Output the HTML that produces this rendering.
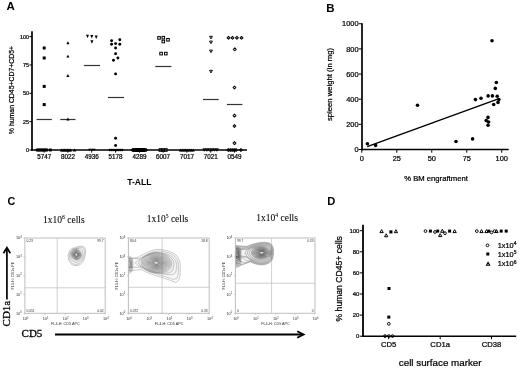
<!DOCTYPE html>
<html><head><meta charset="utf-8"><style>
html,body{margin:0;padding:0;background:#fff;}
body{width:520px;height:369px;overflow:hidden;font-family:"Liberation Sans", sans-serif;}
svg{display:block;will-change:transform;}
</style></head><body>
<svg width="520" height="369" viewBox="0 0 520 369">
<rect width="520" height="369" fill="#fff"/>
<text x="6.5" y="9.9" font-size="11.5" text-anchor="start" font-weight="bold" font-family='"Liberation Sans", sans-serif' fill="#000" >A</text>
<line x1="32.0" y1="31.2" x2="32.0" y2="150.8" stroke="#000" stroke-width="1.7" />
<line x1="31.2" y1="150.0" x2="247.0" y2="150.0" stroke="#000" stroke-width="1.7" />
<line x1="29.4" y1="150.0" x2="32" y2="150.0" stroke="#000" stroke-width="1.0" />
<text x="29.0" y="151.9" font-size="5.4" text-anchor="end" font-weight="normal" font-family='"Liberation Sans", sans-serif' fill="#000" stroke="#000" stroke-width="0.22" >0</text>
<line x1="29.4" y1="121.65" x2="32" y2="121.65" stroke="#000" stroke-width="1.0" />
<text x="29.0" y="123.55000000000001" font-size="5.4" text-anchor="end" font-weight="normal" font-family='"Liberation Sans", sans-serif' fill="#000" stroke="#000" stroke-width="0.22" >25</text>
<line x1="29.4" y1="93.3" x2="32" y2="93.3" stroke="#000" stroke-width="1.0" />
<text x="29.0" y="95.2" font-size="5.4" text-anchor="end" font-weight="normal" font-family='"Liberation Sans", sans-serif' fill="#000" stroke="#000" stroke-width="0.22" >50</text>
<line x1="29.4" y1="64.95" x2="32" y2="64.95" stroke="#000" stroke-width="1.0" />
<text x="29.0" y="66.85000000000001" font-size="5.4" text-anchor="end" font-weight="normal" font-family='"Liberation Sans", sans-serif' fill="#000" stroke="#000" stroke-width="0.22" >75</text>
<line x1="29.4" y1="36.599999999999994" x2="32" y2="36.599999999999994" stroke="#000" stroke-width="1.0" />
<text x="29.0" y="38.49999999999999" font-size="5.4" text-anchor="end" font-weight="normal" font-family='"Liberation Sans", sans-serif' fill="#000" stroke="#000" stroke-width="0.22" >100</text>
<text x="44.2" y="158.7" font-size="6.3" text-anchor="middle" font-weight="normal" font-family='"Liberation Sans", sans-serif' fill="#000" stroke="#000" stroke-width="0.22" >5747</text>
<line x1="44.2" y1="150.0" x2="44.2" y2="152.6" stroke="#000" stroke-width="1.0" />
<text x="67.9" y="158.7" font-size="6.3" text-anchor="middle" font-weight="normal" font-family='"Liberation Sans", sans-serif' fill="#000" stroke="#000" stroke-width="0.22" >8022</text>
<line x1="67.9" y1="150.0" x2="67.9" y2="152.6" stroke="#000" stroke-width="1.0" />
<text x="91.7" y="158.7" font-size="6.3" text-anchor="middle" font-weight="normal" font-family='"Liberation Sans", sans-serif' fill="#000" stroke="#000" stroke-width="0.22" >4936</text>
<line x1="91.7" y1="150.0" x2="91.7" y2="152.6" stroke="#000" stroke-width="1.0" />
<text x="115.6" y="158.7" font-size="6.3" text-anchor="middle" font-weight="normal" font-family='"Liberation Sans", sans-serif' fill="#000" stroke="#000" stroke-width="0.22" >5178</text>
<line x1="115.6" y1="150.0" x2="115.6" y2="152.6" stroke="#000" stroke-width="1.0" />
<text x="139.5" y="158.7" font-size="6.3" text-anchor="middle" font-weight="normal" font-family='"Liberation Sans", sans-serif' fill="#000" stroke="#000" stroke-width="0.22" >4289</text>
<line x1="139.5" y1="150.0" x2="139.5" y2="152.6" stroke="#000" stroke-width="1.0" />
<text x="163.1" y="158.7" font-size="6.3" text-anchor="middle" font-weight="normal" font-family='"Liberation Sans", sans-serif' fill="#000" stroke="#000" stroke-width="0.22" >6007</text>
<line x1="163.1" y1="150.0" x2="163.1" y2="152.6" stroke="#000" stroke-width="1.0" />
<text x="186.9" y="158.7" font-size="6.3" text-anchor="middle" font-weight="normal" font-family='"Liberation Sans", sans-serif' fill="#000" stroke="#000" stroke-width="0.22" >7017</text>
<line x1="186.9" y1="150.0" x2="186.9" y2="152.6" stroke="#000" stroke-width="1.0" />
<text x="210.7" y="158.7" font-size="6.3" text-anchor="middle" font-weight="normal" font-family='"Liberation Sans", sans-serif' fill="#000" stroke="#000" stroke-width="0.22" >7021</text>
<line x1="210.7" y1="150.0" x2="210.7" y2="152.6" stroke="#000" stroke-width="1.0" />
<text x="234.5" y="158.7" font-size="6.3" text-anchor="middle" font-weight="normal" font-family='"Liberation Sans", sans-serif' fill="#000" stroke="#000" stroke-width="0.22" >0549</text>
<line x1="234.5" y1="150.0" x2="234.5" y2="152.6" stroke="#000" stroke-width="1.0" />
<text x="139.4" y="184.8" font-size="8.6" text-anchor="middle" font-weight="bold" font-family='"Liberation Sans", sans-serif' fill="#000" >T-ALL</text>
<text x="0" y="0" font-size="6.9" text-anchor="middle" font-weight="normal" font-family='"Liberation Sans", sans-serif' fill="#000" stroke="#000" stroke-width="0.22" transform="translate(14.0,90) rotate(-90)">% human CD45+CD7+CD5+</text>
<line x1="36.6" y1="119.5" x2="51.8" y2="119.5" stroke="#333" stroke-width="1.2" />
<line x1="60.3" y1="119.5" x2="75.5" y2="119.5" stroke="#333" stroke-width="1.2" />
<line x1="83.8" y1="65.5" x2="100" y2="65.5" stroke="#333" stroke-width="1.2" />
<line x1="108" y1="97.5" x2="124" y2="97.5" stroke="#333" stroke-width="1.2" />
<line x1="155.3" y1="66.5" x2="171.4" y2="66.5" stroke="#333" stroke-width="1.2" />
<line x1="203" y1="99.5" x2="218.7" y2="99.5" stroke="#333" stroke-width="1.2" />
<line x1="226.9" y1="104.5" x2="242.4" y2="104.5" stroke="#333" stroke-width="1.2" />
<rect x="35.75" y="148.55" width="2.9" height="2.9" fill="#000"/>
<rect x="37.32" y="148.55" width="2.9" height="2.9" fill="#000"/>
<rect x="38.88" y="148.55" width="2.9" height="2.9" fill="#000"/>
<rect x="40.45" y="148.55" width="2.9" height="2.9" fill="#000"/>
<rect x="42.02" y="148.55" width="2.9" height="2.9" fill="#000"/>
<rect x="43.58" y="148.55" width="2.9" height="2.9" fill="#000"/>
<rect x="45.15" y="148.55" width="2.9" height="2.9" fill="#000"/>
<rect x="48.85" y="148.55" width="2.9" height="2.9" fill="#000"/>
<polygon points="61.50,148.43 63.25,151.57 59.75,151.57" fill="#000"/>
<polygon points="63.00,148.43 64.75,151.57 61.25,151.57" fill="#000"/>
<polygon points="64.50,148.43 66.25,151.57 62.75,151.57" fill="#000"/>
<polygon points="66.00,148.43 67.75,151.57 64.25,151.57" fill="#000"/>
<polygon points="67.50,148.43 69.25,151.57 65.75,151.57" fill="#000"/>
<polygon points="69.00,148.43 70.75,151.57 67.25,151.57" fill="#000"/>
<polygon points="70.50,148.43 72.25,151.57 68.75,151.57" fill="#000"/>
<polygon points="74.50,148.43 76.25,151.57 72.75,151.57" fill="#000"/>
<polygon points="89.60,151.35 91.10,148.65 88.10,148.65" fill="#000"/>
<polygon points="91.90,151.35 93.40,148.65 90.40,148.65" fill="#000"/>
<polygon points="94.20,151.35 95.70,148.65 92.70,148.65" fill="#000"/>
<circle cx="109.80" cy="150.00" r="1.25" fill="#000"/>
<circle cx="111.57" cy="150.00" r="1.25" fill="#000"/>
<circle cx="113.34" cy="150.00" r="1.25" fill="#000"/>
<circle cx="115.11" cy="150.00" r="1.25" fill="#000"/>
<circle cx="116.89" cy="150.00" r="1.25" fill="#000"/>
<circle cx="118.66" cy="150.00" r="1.25" fill="#000"/>
<circle cx="120.43" cy="150.00" r="1.25" fill="#000"/>
<circle cx="122.20" cy="150.00" r="1.25" fill="#000"/>
<rect x="132.2" y="148.1" width="14.2" height="3.8" rx="1.6" fill="#000"/>
<polygon points="132.40,148.00 134.40,150.00 132.40,152.00 130.40,150.00" fill="#000"/>
<polygon points="134.12,148.00 136.12,150.00 134.12,152.00 132.12,150.00" fill="#000"/>
<polygon points="135.85,148.00 137.85,150.00 135.85,152.00 133.85,150.00" fill="#000"/>
<polygon points="137.57,148.00 139.57,150.00 137.57,152.00 135.57,150.00" fill="#000"/>
<polygon points="139.30,148.00 141.30,150.00 139.30,152.00 137.30,150.00" fill="#000"/>
<polygon points="141.03,148.00 143.03,150.00 141.03,152.00 139.03,150.00" fill="#000"/>
<polygon points="142.75,148.00 144.75,150.00 142.75,152.00 140.75,150.00" fill="#000"/>
<polygon points="144.47,148.00 146.47,150.00 144.47,152.00 142.47,150.00" fill="#000"/>
<polygon points="146.20,148.00 148.20,150.00 146.20,152.00 144.20,150.00" fill="#000"/>
<rect x="159.10" y="148.70" width="2.60" height="2.60" fill="none" stroke="#000" stroke-width="1.0"/>
<rect x="161.80" y="148.70" width="2.60" height="2.60" fill="none" stroke="#000" stroke-width="1.0"/>
<rect x="164.50" y="148.70" width="2.60" height="2.60" fill="none" stroke="#000" stroke-width="1.0"/>
<polygon points="180.40,148.51 182.05,151.49 178.75,151.49" fill="#000"/>
<polygon points="182.23,148.51 183.88,151.49 180.58,151.49" fill="#000"/>
<polygon points="184.06,148.51 185.71,151.49 182.41,151.49" fill="#000"/>
<polygon points="185.89,148.51 187.54,151.49 184.24,151.49" fill="#000"/>
<polygon points="187.71,148.51 189.36,151.49 186.06,151.49" fill="#000"/>
<polygon points="189.54,148.51 191.19,151.49 187.89,151.49" fill="#000"/>
<polygon points="191.37,148.51 193.02,151.49 189.72,151.49" fill="#000"/>
<polygon points="193.20,148.51 194.85,151.49 191.55,151.49" fill="#000"/>
<polygon points="204.30,151.22 205.65,148.78 202.95,148.78" fill="none" stroke="#000" stroke-width="0.95" stroke-linejoin="round"/>
<polygon points="206.84,151.22 208.19,148.78 205.49,148.78" fill="none" stroke="#000" stroke-width="0.95" stroke-linejoin="round"/>
<polygon points="209.38,151.22 210.73,148.78 208.03,148.78" fill="none" stroke="#000" stroke-width="0.95" stroke-linejoin="round"/>
<polygon points="211.92,151.22 213.27,148.78 210.57,148.78" fill="none" stroke="#000" stroke-width="0.95" stroke-linejoin="round"/>
<polygon points="214.46,151.22 215.81,148.78 213.11,148.78" fill="none" stroke="#000" stroke-width="0.95" stroke-linejoin="round"/>
<polygon points="217.00,151.22 218.35,148.78 215.65,148.78" fill="none" stroke="#000" stroke-width="0.95" stroke-linejoin="round"/>
<polygon points="228.30,148.55 229.75,150.00 228.30,151.45 226.85,150.00" fill="none" stroke="#000" stroke-width="1.05" stroke-linejoin="round"/>
<polygon points="230.23,148.55 231.68,150.00 230.23,151.45 228.78,150.00" fill="none" stroke="#000" stroke-width="1.05" stroke-linejoin="round"/>
<polygon points="232.15,148.55 233.60,150.00 232.15,151.45 230.70,150.00" fill="none" stroke="#000" stroke-width="1.05" stroke-linejoin="round"/>
<polygon points="234.07,148.55 235.52,150.00 234.07,151.45 232.62,150.00" fill="none" stroke="#000" stroke-width="1.05" stroke-linejoin="round"/>
<polygon points="236.00,148.55 237.45,150.00 236.00,151.45 234.55,150.00" fill="none" stroke="#000" stroke-width="1.05" stroke-linejoin="round"/>
<polygon points="240.90,148.55 242.35,150.00 240.90,151.45 239.45,150.00" fill="none" stroke="#000" stroke-width="1.05" stroke-linejoin="round"/>
<rect x="42.70" y="46.50" width="3.0" height="3.0" fill="#000"/>
<rect x="42.70" y="56.50" width="3.0" height="3.0" fill="#000"/>
<rect x="42.70" y="84.90" width="3.0" height="3.0" fill="#000"/>
<rect x="42.70" y="103.10" width="3.0" height="3.0" fill="#000"/>
<polygon points="67.90,41.26 69.50,44.14 66.30,44.14" fill="#000"/>
<polygon points="67.90,54.66 69.50,57.54 66.30,57.54" fill="#000"/>
<polygon points="67.90,74.06 69.50,76.94 66.30,76.94" fill="#000"/>
<polygon points="67.90,117.56 69.50,120.44 66.30,120.44" fill="#000"/>
<polygon points="87.50,38.10 89.05,34.70 85.95,34.70" fill="#000"/>
<polygon points="91.80,38.50 93.35,35.10 90.25,35.10" fill="#000"/>
<polygon points="96.20,39.00 97.75,35.60 94.65,35.60" fill="#000"/>
<polygon points="91.90,43.70 93.45,40.30 90.35,40.30" fill="#000"/>
<circle cx="111.60" cy="40.80" r="1.45" fill="#000"/>
<circle cx="119.80" cy="39.80" r="1.45" fill="#000"/>
<circle cx="111.60" cy="44.20" r="1.45" fill="#000"/>
<circle cx="115.60" cy="43.60" r="1.45" fill="#000"/>
<circle cx="119.80" cy="44.20" r="1.45" fill="#000"/>
<circle cx="115.60" cy="48.00" r="1.45" fill="#000"/>
<circle cx="115.60" cy="53.70" r="1.45" fill="#000"/>
<circle cx="117.90" cy="58.00" r="1.45" fill="#000"/>
<circle cx="113.50" cy="60.30" r="1.45" fill="#000"/>
<circle cx="115.60" cy="73.90" r="1.45" fill="#000"/>
<circle cx="115.60" cy="138.30" r="1.45" fill="#000"/>
<circle cx="115.60" cy="145.50" r="1.45" fill="#000"/>
<rect x="157.70" y="36.60" width="2.60" height="2.60" fill="none" stroke="#000" stroke-width="1.0"/>
<rect x="162.00" y="36.40" width="2.60" height="2.60" fill="none" stroke="#000" stroke-width="1.0"/>
<rect x="162.00" y="40.20" width="2.60" height="2.60" fill="none" stroke="#000" stroke-width="1.0"/>
<rect x="166.70" y="38.50" width="2.60" height="2.60" fill="none" stroke="#000" stroke-width="1.0"/>
<rect x="159.80" y="52.30" width="2.60" height="2.60" fill="none" stroke="#000" stroke-width="1.0"/>
<rect x="164.50" y="52.30" width="2.60" height="2.60" fill="none" stroke="#000" stroke-width="1.0"/>
<polygon points="211.00,38.91 212.45,36.30 209.55,36.30" fill="none" stroke="#000" stroke-width="0.95" stroke-linejoin="round"/>
<polygon points="211.00,43.70 212.45,41.09 209.55,41.09" fill="none" stroke="#000" stroke-width="0.95" stroke-linejoin="round"/>
<polygon points="211.00,52.70 212.45,50.09 209.55,50.09" fill="none" stroke="#000" stroke-width="0.95" stroke-linejoin="round"/>
<polygon points="211.00,72.91 212.45,70.29 209.55,70.29" fill="none" stroke="#000" stroke-width="0.95" stroke-linejoin="round"/>
<polygon points="228.50,36.35 229.95,37.80 228.50,39.25 227.05,37.80" fill="none" stroke="#000" stroke-width="1.05" stroke-linejoin="round"/>
<polygon points="232.50,36.35 233.95,37.80 232.50,39.25 231.05,37.80" fill="none" stroke="#000" stroke-width="1.05" stroke-linejoin="round"/>
<polygon points="236.90,36.35 238.35,37.80 236.90,39.25 235.45,37.80" fill="none" stroke="#000" stroke-width="1.05" stroke-linejoin="round"/>
<polygon points="241.50,36.35 242.95,37.80 241.50,39.25 240.05,37.80" fill="none" stroke="#000" stroke-width="1.05" stroke-linejoin="round"/>
<polygon points="234.80,47.85 236.25,49.30 234.80,50.75 233.35,49.30" fill="none" stroke="#000" stroke-width="1.05" stroke-linejoin="round"/>
<polygon points="234.50,86.05 235.95,87.50 234.50,88.95 233.05,87.50" fill="none" stroke="#000" stroke-width="1.05" stroke-linejoin="round"/>
<polygon points="234.50,114.15 235.95,115.60 234.50,117.05 233.05,115.60" fill="none" stroke="#000" stroke-width="1.05" stroke-linejoin="round"/>
<polygon points="234.50,124.55 235.95,126.00 234.50,127.45 233.05,126.00" fill="none" stroke="#000" stroke-width="1.05" stroke-linejoin="round"/>
<polygon points="234.50,141.65 235.95,143.10 234.50,144.55 233.05,143.10" fill="none" stroke="#000" stroke-width="1.05" stroke-linejoin="round"/>
<text x="326.2" y="12.2" font-size="11.5" text-anchor="start" font-weight="bold" font-family='"Liberation Sans", sans-serif' fill="#000" >B</text>
<line x1="362.0" y1="23.2" x2="362.0" y2="150.3" stroke="#000" stroke-width="1.7" />
<line x1="361.2" y1="149.5" x2="508.7" y2="149.5" stroke="#000" stroke-width="1.5" />
<line x1="358.6" y1="149.5" x2="361.8" y2="149.5" stroke="#000" stroke-width="1" />
<text x="358.5" y="152.15" font-size="7.4" text-anchor="end" font-weight="normal" font-family='"Liberation Sans", sans-serif' fill="#000" stroke="#000" stroke-width="0.22" >0</text>
<line x1="358.6" y1="124.35" x2="361.8" y2="124.35" stroke="#000" stroke-width="1" />
<text x="358.5" y="127.0" font-size="7.4" text-anchor="end" font-weight="normal" font-family='"Liberation Sans", sans-serif' fill="#000" stroke="#000" stroke-width="0.22" >200</text>
<line x1="358.6" y1="99.2" x2="361.8" y2="99.2" stroke="#000" stroke-width="1" />
<text x="358.5" y="101.85000000000001" font-size="7.4" text-anchor="end" font-weight="normal" font-family='"Liberation Sans", sans-serif' fill="#000" stroke="#000" stroke-width="0.22" >400</text>
<line x1="358.6" y1="74.05" x2="361.8" y2="74.05" stroke="#000" stroke-width="1" />
<text x="358.5" y="76.7" font-size="7.4" text-anchor="end" font-weight="normal" font-family='"Liberation Sans", sans-serif' fill="#000" stroke="#000" stroke-width="0.22" >600</text>
<line x1="358.6" y1="48.900000000000006" x2="361.8" y2="48.900000000000006" stroke="#000" stroke-width="1" />
<text x="358.5" y="51.550000000000004" font-size="7.4" text-anchor="end" font-weight="normal" font-family='"Liberation Sans", sans-serif' fill="#000" stroke="#000" stroke-width="0.22" >800</text>
<line x1="358.6" y1="23.75" x2="361.8" y2="23.75" stroke="#000" stroke-width="1" />
<text x="358.5" y="26.4" font-size="7.4" text-anchor="end" font-weight="normal" font-family='"Liberation Sans", sans-serif' fill="#000" stroke="#000" stroke-width="0.22" >1000</text>
<line x1="361.8" y1="149.5" x2="361.8" y2="152.7" stroke="#000" stroke-width="1" />
<text x="361.8" y="160.7" font-size="7.4" text-anchor="middle" font-weight="normal" font-family='"Liberation Sans", sans-serif' fill="#000" stroke="#000" stroke-width="0.22" >0</text>
<line x1="396.7875" y1="149.5" x2="396.7875" y2="152.7" stroke="#000" stroke-width="1" />
<text x="396.7875" y="160.7" font-size="7.4" text-anchor="middle" font-weight="normal" font-family='"Liberation Sans", sans-serif' fill="#000" stroke="#000" stroke-width="0.22" >25</text>
<line x1="431.775" y1="149.5" x2="431.775" y2="152.7" stroke="#000" stroke-width="1" />
<text x="431.775" y="160.7" font-size="7.4" text-anchor="middle" font-weight="normal" font-family='"Liberation Sans", sans-serif' fill="#000" stroke="#000" stroke-width="0.22" >50</text>
<line x1="466.7625" y1="149.5" x2="466.7625" y2="152.7" stroke="#000" stroke-width="1" />
<text x="466.7625" y="160.7" font-size="7.4" text-anchor="middle" font-weight="normal" font-family='"Liberation Sans", sans-serif' fill="#000" stroke="#000" stroke-width="0.22" >75</text>
<line x1="501.75" y1="149.5" x2="501.75" y2="152.7" stroke="#000" stroke-width="1" />
<text x="501.75" y="160.7" font-size="7.4" text-anchor="middle" font-weight="normal" font-family='"Liberation Sans", sans-serif' fill="#000" stroke="#000" stroke-width="0.22" >100</text>
<text x="0" y="0" font-size="7.7" text-anchor="middle" font-weight="normal" font-family='"Liberation Sans", sans-serif' fill="#000" stroke="#000" stroke-width="0.22" transform="translate(332.4,84.5) rotate(-90)">spleen weight (in mg)</text>
<text x="436" y="181.4" font-size="7.7" text-anchor="middle" font-weight="normal" font-family='"Liberation Sans", sans-serif' fill="#000" stroke="#000" stroke-width="0.22" >% BM engraftment</text>
<line x1="367.2" y1="146.6" x2="499" y2="98.6" stroke="#000" stroke-width="1.5" />
<circle cx="367.40" cy="143.80" r="1.8" fill="#000"/>
<circle cx="375.60" cy="145.40" r="1.8" fill="#000"/>
<circle cx="417.50" cy="105.25" r="1.8" fill="#000"/>
<circle cx="456.00" cy="141.50" r="1.8" fill="#000"/>
<circle cx="472.60" cy="138.90" r="1.8" fill="#000"/>
<circle cx="475.40" cy="99.60" r="1.8" fill="#000"/>
<circle cx="481.00" cy="98.30" r="1.8" fill="#000"/>
<circle cx="488.10" cy="95.90" r="1.8" fill="#000"/>
<circle cx="492.40" cy="95.90" r="1.8" fill="#000"/>
<circle cx="497.20" cy="96.30" r="1.8" fill="#000"/>
<circle cx="498.90" cy="99.60" r="1.8" fill="#000"/>
<circle cx="498.00" cy="102.40" r="1.8" fill="#000"/>
<circle cx="493.70" cy="104.50" r="1.8" fill="#000"/>
<circle cx="496.40" cy="82.50" r="1.8" fill="#000"/>
<circle cx="495.30" cy="88.40" r="1.8" fill="#000"/>
<circle cx="492.00" cy="40.75" r="1.8" fill="#000"/>
<circle cx="488.00" cy="117.40" r="1.8" fill="#000"/>
<circle cx="486.20" cy="120.60" r="1.8" fill="#000"/>
<circle cx="488.60" cy="122.00" r="1.8" fill="#000"/>
<circle cx="488.00" cy="125.30" r="1.8" fill="#000"/>
<text x="327.3" y="205.3" font-size="11.2" text-anchor="start" font-weight="bold" font-family='"Liberation Sans", sans-serif' fill="#000" >D</text>
<line x1="363.0" y1="224.8" x2="363.0" y2="336.9" stroke="#000" stroke-width="1.8" />
<line x1="362.1" y1="336.2" x2="516.2" y2="336.2" stroke="#000" stroke-width="1.5" />
<line x1="359.8" y1="336.2" x2="362.8" y2="336.2" stroke="#000" stroke-width="1" />
<text x="359.40000000000003" y="338.3" font-size="6.0" text-anchor="end" font-weight="normal" font-family='"Liberation Sans", sans-serif' fill="#000" stroke="#000" stroke-width="0.22" >0</text>
<line x1="359.8" y1="315.09999999999997" x2="362.8" y2="315.09999999999997" stroke="#000" stroke-width="1" />
<text x="359.40000000000003" y="317.2" font-size="6.0" text-anchor="end" font-weight="normal" font-family='"Liberation Sans", sans-serif' fill="#000" stroke="#000" stroke-width="0.22" >20</text>
<line x1="359.8" y1="294.0" x2="362.8" y2="294.0" stroke="#000" stroke-width="1" />
<text x="359.40000000000003" y="296.1" font-size="6.0" text-anchor="end" font-weight="normal" font-family='"Liberation Sans", sans-serif' fill="#000" stroke="#000" stroke-width="0.22" >40</text>
<line x1="359.8" y1="272.9" x2="362.8" y2="272.9" stroke="#000" stroke-width="1" />
<text x="359.40000000000003" y="275.0" font-size="6.0" text-anchor="end" font-weight="normal" font-family='"Liberation Sans", sans-serif' fill="#000" stroke="#000" stroke-width="0.22" >60</text>
<line x1="359.8" y1="251.8" x2="362.8" y2="251.8" stroke="#000" stroke-width="1" />
<text x="359.40000000000003" y="253.9" font-size="6.0" text-anchor="end" font-weight="normal" font-family='"Liberation Sans", sans-serif' fill="#000" stroke="#000" stroke-width="0.22" >80</text>
<line x1="359.8" y1="230.7" x2="362.8" y2="230.7" stroke="#000" stroke-width="1" />
<text x="359.40000000000003" y="232.79999999999998" font-size="6.0" text-anchor="end" font-weight="normal" font-family='"Liberation Sans", sans-serif' fill="#000" stroke="#000" stroke-width="0.22" >100</text>
<line x1="388.7" y1="336.2" x2="388.7" y2="339.2" stroke="#000" stroke-width="1" />
<text x="388.7" y="347.3" font-size="7.7" text-anchor="middle" font-weight="normal" font-family='"Liberation Sans", sans-serif' fill="#000" stroke="#000" stroke-width="0.22" >CD5</text>
<line x1="440.2" y1="336.2" x2="440.2" y2="339.2" stroke="#000" stroke-width="1" />
<text x="440.2" y="347.3" font-size="7.7" text-anchor="middle" font-weight="normal" font-family='"Liberation Sans", sans-serif' fill="#000" stroke="#000" stroke-width="0.22" >CD1a</text>
<line x1="491.5" y1="336.2" x2="491.5" y2="339.2" stroke="#000" stroke-width="1" />
<text x="491.5" y="347.3" font-size="7.7" text-anchor="middle" font-weight="normal" font-family='"Liberation Sans", sans-serif' fill="#000" stroke="#000" stroke-width="0.22" >CD38</text>
<text x="440.2" y="365.5" font-size="9.8" text-anchor="middle" font-weight="normal" font-family='"Liberation Sans", sans-serif' fill="#000" stroke="#000" stroke-width="0.22" >cell surface marker</text>
<text x="0" y="0" font-size="8.6" text-anchor="middle" font-weight="normal" font-family='"Liberation Sans", sans-serif' fill="#000" stroke="#000" stroke-width="0.22" transform="translate(341.9,278.8) rotate(-90)">% human CD45+ cells</text>
<polygon points="381.60,229.61 383.25,232.59 379.95,232.59" fill="none" stroke="#000" stroke-width="1.0" stroke-linejoin="round"/>
<polygon points="386.20,233.81 387.85,236.79 384.55,236.79" fill="none" stroke="#000" stroke-width="1.0" stroke-linejoin="round"/>
<polygon points="395.90,229.71 397.55,232.69 394.25,232.69" fill="none" stroke="#000" stroke-width="1.0" stroke-linejoin="round"/>
<rect x="389.35" y="230.35" width="3.1" height="3.1" fill="#000"/>
<rect x="387.50" y="287.00" width="3.0" height="3.0" fill="#000"/>
<rect x="387.30" y="315.60" width="3.0" height="3.0" fill="#000"/>
<circle cx="388.80" cy="323.80" r="1.38" fill="none" stroke="#000" stroke-width="0.95"/>
<circle cx="385.00" cy="336.10" r="1.38" fill="none" stroke="#000" stroke-width="0.95"/>
<circle cx="388.80" cy="336.10" r="1.38" fill="none" stroke="#000" stroke-width="0.95"/>
<circle cx="392.50" cy="336.10" r="1.38" fill="none" stroke="#000" stroke-width="0.95"/>
<circle cx="425.50" cy="231.10" r="1.38" fill="none" stroke="#000" stroke-width="0.95"/>
<rect x="428.90" y="229.60" width="3.0" height="3.0" fill="#000"/>
<circle cx="435.00" cy="232.00" r="1.38" fill="none" stroke="#000" stroke-width="0.95"/>
<rect x="436.20" y="229.60" width="3.0" height="3.0" fill="#000"/>
<polygon points="440.20,233.61 441.85,236.59 438.55,236.59" fill="none" stroke="#000" stroke-width="1.0" stroke-linejoin="round"/>
<polygon points="442.30,229.31 443.95,232.29 440.65,232.29" fill="none" stroke="#000" stroke-width="1.0" stroke-linejoin="round"/>
<circle cx="445.00" cy="233.20" r="1.38" fill="none" stroke="#000" stroke-width="0.95"/>
<rect x="448.10" y="229.60" width="3.0" height="3.0" fill="#000"/>
<polygon points="454.60,229.61 456.25,232.59 452.95,232.59" fill="none" stroke="#000" stroke-width="1.0" stroke-linejoin="round"/>
<circle cx="476.80" cy="231.10" r="1.38" fill="none" stroke="#000" stroke-width="0.95"/>
<polygon points="481.50,229.61 483.15,232.59 479.85,232.59" fill="none" stroke="#000" stroke-width="1.0" stroke-linejoin="round"/>
<polygon points="486.50,229.61 488.15,232.59 484.85,232.59" fill="none" stroke="#000" stroke-width="1.0" stroke-linejoin="round"/>
<rect x="487.30" y="229.60" width="3.0" height="3.0" fill="#000"/>
<circle cx="491.50" cy="232.40" r="1.38" fill="none" stroke="#000" stroke-width="0.95"/>
<circle cx="494.60" cy="231.10" r="1.38" fill="none" stroke="#000" stroke-width="0.95"/>
<polygon points="496.50,229.61 498.15,232.59 494.85,232.59" fill="none" stroke="#000" stroke-width="1.0" stroke-linejoin="round"/>
<rect x="499.70" y="229.60" width="3.0" height="3.0" fill="#000"/>
<rect x="504.70" y="229.60" width="3.0" height="3.0" fill="#000"/>
<circle cx="487.50" cy="245.30" r="1.38" fill="none" stroke="#000" stroke-width="0.95"/>
<rect x="486.30" y="252.50" width="3.0" height="3.0" fill="#000"/>
<polygon points="488.10,262.27 489.80,265.33 486.40,265.33" fill="none" stroke="#000" stroke-width="1.05" stroke-linejoin="round"/>
<text x="497.7" y="247.6" font-size="7.4" font-family='"Liberation Sans", sans-serif' fill="#000" stroke="#000" stroke-width="0.22">1x10<tspan font-size="5" dy="-2.5">4</tspan></text>
<text x="497.7" y="256.6" font-size="7.4" font-family='"Liberation Sans", sans-serif' fill="#000" stroke="#000" stroke-width="0.22">1x10<tspan font-size="5" dy="-2.5">5</tspan></text>
<text x="497.7" y="266.40000000000003" font-size="7.4" font-family='"Liberation Sans", sans-serif' fill="#000" stroke="#000" stroke-width="0.22">1x10<tspan font-size="5" dy="-2.5">6</tspan></text>
<text x="7.4" y="204.9" font-size="10.8" text-anchor="start" font-weight="bold" font-family='"Liberation Sans", sans-serif' fill="#000" >C</text>
<text x="63.85" y="223.3" font-size="9.5" text-anchor="middle" font-family='"Liberation Serif", serif' fill="#000" stroke="#000" stroke-width="0.06">1x10<tspan font-size="5.6" dy="-4.0">6</tspan><tspan dy="4.0"> cells</tspan></text>
<text x="167.5" y="221.5" font-size="9.5" text-anchor="middle" font-family='"Liberation Serif", serif' fill="#000" stroke="#000" stroke-width="0.06">1x10<tspan font-size="5.6" dy="-4.0">5</tspan><tspan dy="4.0"> cells</tspan></text>
<text x="277.1" y="221.3" font-size="9.5" text-anchor="middle" font-family='"Liberation Serif", serif' fill="#000" stroke="#000" stroke-width="0.06">1x10<tspan font-size="5.6" dy="-4.0">4</tspan><tspan dy="4.0"> cells</tspan></text>
<rect x="24.9" y="238.0" width="80.30" height="75.30" fill="none" stroke="#bdbdbd" stroke-width="1.0"/>
<line x1="57.2" y1="238.0" x2="57.2" y2="313.3" stroke="#c4c4c4" stroke-width="0.8" />
<line x1="24.9" y1="287.8" x2="105.2" y2="287.8" stroke="#c4c4c4" stroke-width="0.8" />
<text x="26.4" y="242.4" font-size="3.3" text-anchor="start" font-weight="normal" font-family='"Liberation Sans", sans-serif' fill="#333" >0.23</text>
<text x="103.7" y="242.4" font-size="3.3" text-anchor="end" font-weight="normal" font-family='"Liberation Sans", sans-serif' fill="#333" >99.7</text>
<text x="26.4" y="312.1" font-size="3.3" text-anchor="start" font-weight="normal" font-family='"Liberation Sans", sans-serif' fill="#333" >0.051</text>
<text x="103.7" y="312.1" font-size="3.3" text-anchor="end" font-weight="normal" font-family='"Liberation Sans", sans-serif' fill="#333" >0.02</text>
<text x="21.7" y="314.6" font-size="3.8" text-anchor="end" font-family='"Liberation Sans", sans-serif' fill="#333">10<tspan font-size="2.7" dy="-1.5">0</tspan></text>
<line x1="23.4" y1="313.3" x2="24.9" y2="313.3" stroke="#aaa" stroke-width="0.5" />
<text x="25.5" y="320.3" font-size="3.8" text-anchor="middle" font-family='"Liberation Sans", sans-serif' fill="#333">10<tspan font-size="2.7" dy="-1.5">0</tspan></text>
<line x1="24.9" y1="313.3" x2="24.9" y2="314.8" stroke="#aaa" stroke-width="0.5" />
<text x="21.7" y="295.77500000000003" font-size="3.8" text-anchor="end" font-family='"Liberation Sans", sans-serif' fill="#333">10<tspan font-size="2.7" dy="-1.5">1</tspan></text>
<line x1="23.4" y1="294.475" x2="24.9" y2="294.475" stroke="#aaa" stroke-width="0.5" />
<text x="45.575" y="320.3" font-size="3.8" text-anchor="middle" font-family='"Liberation Sans", sans-serif' fill="#333">10<tspan font-size="2.7" dy="-1.5">1</tspan></text>
<line x1="44.975" y1="313.3" x2="44.975" y2="314.8" stroke="#aaa" stroke-width="0.5" />
<text x="21.7" y="276.95" font-size="3.8" text-anchor="end" font-family='"Liberation Sans", sans-serif' fill="#333">10<tspan font-size="2.7" dy="-1.5">2</tspan></text>
<line x1="23.4" y1="275.65" x2="24.9" y2="275.65" stroke="#aaa" stroke-width="0.5" />
<text x="65.65" y="320.3" font-size="3.8" text-anchor="middle" font-family='"Liberation Sans", sans-serif' fill="#333">10<tspan font-size="2.7" dy="-1.5">2</tspan></text>
<line x1="65.05000000000001" y1="313.3" x2="65.05000000000001" y2="314.8" stroke="#aaa" stroke-width="0.5" />
<text x="21.7" y="258.125" font-size="3.8" text-anchor="end" font-family='"Liberation Sans", sans-serif' fill="#333">10<tspan font-size="2.7" dy="-1.5">3</tspan></text>
<line x1="23.4" y1="256.825" x2="24.9" y2="256.825" stroke="#aaa" stroke-width="0.5" />
<text x="85.725" y="320.3" font-size="3.8" text-anchor="middle" font-family='"Liberation Sans", sans-serif' fill="#333">10<tspan font-size="2.7" dy="-1.5">3</tspan></text>
<line x1="85.125" y1="313.3" x2="85.125" y2="314.8" stroke="#aaa" stroke-width="0.5" />
<text x="21.7" y="239.3" font-size="3.8" text-anchor="end" font-family='"Liberation Sans", sans-serif' fill="#333">10<tspan font-size="2.7" dy="-1.5">4</tspan></text>
<line x1="23.4" y1="238.0" x2="24.9" y2="238.0" stroke="#aaa" stroke-width="0.5" />
<text x="105.80000000000001" y="320.3" font-size="3.8" text-anchor="middle" font-family='"Liberation Sans", sans-serif' fill="#333">10<tspan font-size="2.7" dy="-1.5">4</tspan></text>
<line x1="105.20000000000002" y1="313.3" x2="105.20000000000002" y2="314.8" stroke="#aaa" stroke-width="0.5" />
<text x="0" y="0" font-size="3.7" text-anchor="middle" font-weight="normal" font-family='"Liberation Sans", sans-serif' fill="#333" transform="translate(14.00,275.65) rotate(-90)">FL3-H: CD1a PE</text>
<text x="65.35" y="324.6" font-size="3.75" text-anchor="middle" font-weight="normal" font-family='"Liberation Sans", sans-serif' fill="#333" >FL4-H: CD5 APC</text>
<rect x="128.4" y="238.0" width="80.80" height="75.30" fill="none" stroke="#bdbdbd" stroke-width="1.0"/>
<line x1="162.1" y1="238.0" x2="162.1" y2="313.3" stroke="#c4c4c4" stroke-width="0.8" />
<line x1="128.4" y1="287.3" x2="209.2" y2="287.3" stroke="#c4c4c4" stroke-width="0.8" />
<text x="129.9" y="242.4" font-size="3.3" text-anchor="start" font-weight="normal" font-family='"Liberation Sans", sans-serif' fill="#333" >80.6</text>
<text x="207.7" y="242.4" font-size="3.3" text-anchor="end" font-weight="normal" font-family='"Liberation Sans", sans-serif' fill="#333" >18.8</text>
<text x="129.9" y="312.1" font-size="3.3" text-anchor="start" font-weight="normal" font-family='"Liberation Sans", sans-serif' fill="#333" >0.072</text>
<text x="207.7" y="312.1" font-size="3.3" text-anchor="end" font-weight="normal" font-family='"Liberation Sans", sans-serif' fill="#333" >0.33</text>
<text x="125.2" y="314.6" font-size="3.8" text-anchor="end" font-family='"Liberation Sans", sans-serif' fill="#333">10<tspan font-size="2.7" dy="-1.5">0</tspan></text>
<line x1="126.9" y1="313.3" x2="128.4" y2="313.3" stroke="#aaa" stroke-width="0.5" />
<text x="129.0" y="320.3" font-size="3.8" text-anchor="middle" font-family='"Liberation Sans", sans-serif' fill="#333">10<tspan font-size="2.7" dy="-1.5">0</tspan></text>
<line x1="128.4" y1="313.3" x2="128.4" y2="314.8" stroke="#aaa" stroke-width="0.5" />
<text x="125.2" y="295.77500000000003" font-size="3.8" text-anchor="end" font-family='"Liberation Sans", sans-serif' fill="#333">10<tspan font-size="2.7" dy="-1.5">1</tspan></text>
<line x1="126.9" y1="294.475" x2="128.4" y2="294.475" stroke="#aaa" stroke-width="0.5" />
<text x="149.2" y="320.3" font-size="3.8" text-anchor="middle" font-family='"Liberation Sans", sans-serif' fill="#333">10<tspan font-size="2.7" dy="-1.5">1</tspan></text>
<line x1="148.6" y1="313.3" x2="148.6" y2="314.8" stroke="#aaa" stroke-width="0.5" />
<text x="125.2" y="276.95" font-size="3.8" text-anchor="end" font-family='"Liberation Sans", sans-serif' fill="#333">10<tspan font-size="2.7" dy="-1.5">2</tspan></text>
<line x1="126.9" y1="275.65" x2="128.4" y2="275.65" stroke="#aaa" stroke-width="0.5" />
<text x="169.4" y="320.3" font-size="3.8" text-anchor="middle" font-family='"Liberation Sans", sans-serif' fill="#333">10<tspan font-size="2.7" dy="-1.5">2</tspan></text>
<line x1="168.8" y1="313.3" x2="168.8" y2="314.8" stroke="#aaa" stroke-width="0.5" />
<text x="125.2" y="258.125" font-size="3.8" text-anchor="end" font-family='"Liberation Sans", sans-serif' fill="#333">10<tspan font-size="2.7" dy="-1.5">3</tspan></text>
<line x1="126.9" y1="256.825" x2="128.4" y2="256.825" stroke="#aaa" stroke-width="0.5" />
<text x="189.6" y="320.3" font-size="3.8" text-anchor="middle" font-family='"Liberation Sans", sans-serif' fill="#333">10<tspan font-size="2.7" dy="-1.5">3</tspan></text>
<line x1="189.0" y1="313.3" x2="189.0" y2="314.8" stroke="#aaa" stroke-width="0.5" />
<text x="125.2" y="239.3" font-size="3.8" text-anchor="end" font-family='"Liberation Sans", sans-serif' fill="#333">10<tspan font-size="2.7" dy="-1.5">4</tspan></text>
<line x1="126.9" y1="238.0" x2="128.4" y2="238.0" stroke="#aaa" stroke-width="0.5" />
<text x="209.79999999999998" y="320.3" font-size="3.8" text-anchor="middle" font-family='"Liberation Sans", sans-serif' fill="#333">10<tspan font-size="2.7" dy="-1.5">4</tspan></text>
<line x1="209.2" y1="313.3" x2="209.2" y2="314.8" stroke="#aaa" stroke-width="0.5" />
<text x="0" y="0" font-size="3.7" text-anchor="middle" font-weight="normal" font-family='"Liberation Sans", sans-serif' fill="#333" transform="translate(117.50,275.65) rotate(-90)">FL3-H: CD1a PE</text>
<text x="169.10000000000002" y="324.6" font-size="3.75" text-anchor="middle" font-weight="normal" font-family='"Liberation Sans", sans-serif' fill="#333" >FL4-H: CD5 APC</text>
<rect x="235.4" y="238.0" width="79.60" height="75.30" fill="none" stroke="#bdbdbd" stroke-width="1.0"/>
<line x1="271.6" y1="238.0" x2="271.6" y2="313.3" stroke="#c4c4c4" stroke-width="0.8" />
<line x1="235.4" y1="283.2" x2="315.0" y2="283.2" stroke="#c4c4c4" stroke-width="0.8" />
<text x="236.9" y="242.4" font-size="3.3" text-anchor="start" font-weight="normal" font-family='"Liberation Sans", sans-serif' fill="#333" >99.7</text>
<text x="313.5" y="242.4" font-size="3.3" text-anchor="end" font-weight="normal" font-family='"Liberation Sans", sans-serif' fill="#333" >0.33</text>
<text x="236.9" y="312.1" font-size="3.3" text-anchor="start" font-weight="normal" font-family='"Liberation Sans", sans-serif' fill="#333" >0</text>
<text x="313.5" y="312.1" font-size="3.3" text-anchor="end" font-weight="normal" font-family='"Liberation Sans", sans-serif' fill="#333" >0</text>
<text x="232.20000000000002" y="314.6" font-size="3.8" text-anchor="end" font-family='"Liberation Sans", sans-serif' fill="#333">10<tspan font-size="2.7" dy="-1.5">0</tspan></text>
<line x1="233.9" y1="313.3" x2="235.4" y2="313.3" stroke="#aaa" stroke-width="0.5" />
<text x="236.0" y="320.3" font-size="3.8" text-anchor="middle" font-family='"Liberation Sans", sans-serif' fill="#333">10<tspan font-size="2.7" dy="-1.5">0</tspan></text>
<line x1="235.4" y1="313.3" x2="235.4" y2="314.8" stroke="#aaa" stroke-width="0.5" />
<text x="232.20000000000002" y="295.77500000000003" font-size="3.8" text-anchor="end" font-family='"Liberation Sans", sans-serif' fill="#333">10<tspan font-size="2.7" dy="-1.5">1</tspan></text>
<line x1="233.9" y1="294.475" x2="235.4" y2="294.475" stroke="#aaa" stroke-width="0.5" />
<text x="255.9" y="320.3" font-size="3.8" text-anchor="middle" font-family='"Liberation Sans", sans-serif' fill="#333">10<tspan font-size="2.7" dy="-1.5">1</tspan></text>
<line x1="255.3" y1="313.3" x2="255.3" y2="314.8" stroke="#aaa" stroke-width="0.5" />
<text x="232.20000000000002" y="276.95" font-size="3.8" text-anchor="end" font-family='"Liberation Sans", sans-serif' fill="#333">10<tspan font-size="2.7" dy="-1.5">2</tspan></text>
<line x1="233.9" y1="275.65" x2="235.4" y2="275.65" stroke="#aaa" stroke-width="0.5" />
<text x="275.8" y="320.3" font-size="3.8" text-anchor="middle" font-family='"Liberation Sans", sans-serif' fill="#333">10<tspan font-size="2.7" dy="-1.5">2</tspan></text>
<line x1="275.2" y1="313.3" x2="275.2" y2="314.8" stroke="#aaa" stroke-width="0.5" />
<text x="232.20000000000002" y="258.125" font-size="3.8" text-anchor="end" font-family='"Liberation Sans", sans-serif' fill="#333">10<tspan font-size="2.7" dy="-1.5">3</tspan></text>
<line x1="233.9" y1="256.825" x2="235.4" y2="256.825" stroke="#aaa" stroke-width="0.5" />
<text x="295.70000000000005" y="320.3" font-size="3.8" text-anchor="middle" font-family='"Liberation Sans", sans-serif' fill="#333">10<tspan font-size="2.7" dy="-1.5">3</tspan></text>
<line x1="295.1" y1="313.3" x2="295.1" y2="314.8" stroke="#aaa" stroke-width="0.5" />
<text x="232.20000000000002" y="239.3" font-size="3.8" text-anchor="end" font-family='"Liberation Sans", sans-serif' fill="#333">10<tspan font-size="2.7" dy="-1.5">4</tspan></text>
<line x1="233.9" y1="238.0" x2="235.4" y2="238.0" stroke="#aaa" stroke-width="0.5" />
<text x="315.6" y="320.3" font-size="3.8" text-anchor="middle" font-family='"Liberation Sans", sans-serif' fill="#333">10<tspan font-size="2.7" dy="-1.5">4</tspan></text>
<line x1="315.0" y1="313.3" x2="315.0" y2="314.8" stroke="#aaa" stroke-width="0.5" />
<text x="0" y="0" font-size="3.7" text-anchor="middle" font-weight="normal" font-family='"Liberation Sans", sans-serif' fill="#333" transform="translate(224.50,275.65) rotate(-90)">FL3-H: CD1a PE</text>
<text x="275.5" y="324.6" font-size="3.75" text-anchor="middle" font-weight="normal" font-family='"Liberation Sans", sans-serif' fill="#333" >FL4-H: CD5 APC</text>
<line x1="6.9" y1="249" x2="6.9" y2="299.4" stroke="#000" stroke-width="1.7" />
<polyline points="3.5,253.3 6.9,247.7 10.3,253.3" fill="none" stroke="#000" stroke-width="1.7" stroke-linejoin="miter"/>
<text x="0" y="0" font-size="11" text-anchor="middle" font-family='"Liberation Serif", serif' fill="#000" stroke="#000" stroke-width="0.3" transform="translate(10.0,313.6) rotate(-90)">CD1a</text>
<text x="21.6" y="336.8" font-size="11" font-family='"Liberation Serif", serif' fill="#000" stroke="#000" stroke-width="0.3">CD5</text>
<line x1="55" y1="334.5" x2="302.5" y2="334.5" stroke="#000" stroke-width="1.8" />
<polyline points="297.2,331.2 303.6,334.5 297.2,337.8" fill="none" stroke="#000" stroke-width="1.8"/>
<defs><clipPath id="c2"><rect x="128.9" y="238.5" width="80" height="74.5"/></clipPath><clipPath id="c3"><rect x="235.9" y="238.5" width="78.6" height="74.5"/></clipPath></defs>
<g><path d="M85.32,254.60 L85.09,255.76 L84.79,256.88 L84.45,257.98 L84.06,259.08 L83.59,260.19 L83.00,261.30 L82.27,262.37 L81.38,263.40 L80.32,264.30 L79.08,264.99 L77.73,265.43 L76.30,265.65 L74.85,265.63 L73.43,265.31 L72.13,264.68 L71.01,263.75 L70.14,262.63 L69.46,261.44 L68.93,260.26 L68.51,259.10 L68.23,257.94 L68.12,256.79 L68.16,255.67 L68.30,254.60 L68.51,253.57 L68.78,252.58 L69.12,251.63 L69.60,250.73 L70.25,249.96 L71.00,249.30 L71.81,248.75 L72.67,248.32 L73.55,247.97 L74.44,247.65 L75.35,247.35 L76.30,247.04 L77.33,246.74 L78.48,246.45 L79.77,246.23 L81.15,246.20 L82.60,246.39 L83.99,246.91 L84.96,247.96 L85.35,249.37 L85.50,250.79 L85.54,252.12 L85.48,253.39Z" fill="#000" fill-opacity="0.02" stroke="#8a8a8a" stroke-width="0.5" stroke-linejoin="round"/><path d="M84.23,254.60 L84.02,255.62 L83.75,256.60 L83.43,257.55 L83.06,258.50 L82.63,259.46 L82.11,260.41 L81.48,261.34 L80.71,262.23 L79.79,263.04 L78.73,263.68 L77.55,264.11 L76.30,264.33 L75.02,264.33 L73.78,264.02 L72.65,263.41 L71.72,262.54 L70.99,261.52 L70.41,260.49 L69.95,259.47 L69.60,258.47 L69.38,257.47 L69.32,256.47 L69.38,255.51 L69.51,254.60 L69.69,253.73 L69.91,252.89 L70.19,252.07 L70.57,251.29 L71.08,250.59 L71.69,249.99 L72.38,249.50 L73.14,249.13 L73.91,248.84 L74.69,248.59 L75.48,248.36 L76.30,248.12 L77.18,247.88 L78.16,247.65 L79.26,247.46 L80.46,247.40 L81.73,247.53 L82.98,247.92 L83.95,248.73 L84.32,249.97 L84.40,251.24 L84.42,252.42 L84.36,253.54Z" fill="#000" fill-opacity="0.02" stroke="#999" stroke-width="0.5" stroke-linejoin="round"/><path d="M82.79,254.60 L82.69,255.44 L82.52,256.27 L82.29,257.08 L81.99,257.88 L81.61,258.67 L81.14,259.44 L80.57,260.17 L79.90,260.83 L79.12,261.40 L78.24,261.84 L77.29,262.11 L76.30,262.22 L75.30,262.17 L74.34,261.91 L73.46,261.45 L72.70,260.83 L72.08,260.11 L71.55,259.35 L71.12,258.57 L70.78,257.79 L70.53,256.99 L70.40,256.18 L70.35,255.38 L70.38,254.60 L70.46,253.83 L70.61,253.07 L70.82,252.33 L71.13,251.61 L71.55,250.95 L72.06,250.36 L72.66,249.85 L73.33,249.45 L74.04,249.13 L74.77,248.90 L75.53,248.72 L76.30,248.60 L77.10,248.54 L77.93,248.53 L78.79,248.58 L79.68,248.74 L80.58,249.02 L81.44,249.46 L82.13,250.13 L82.48,251.03 L82.66,251.97 L82.77,252.87 L82.82,253.74Z" fill="#000" fill-opacity="0.02" stroke="#909090" stroke-width="0.5" stroke-linejoin="round"/><path d="M81.36,254.60 L81.37,255.27 L81.30,255.94 L81.15,256.61 L80.91,257.26 L80.59,257.89 L80.17,258.47 L79.67,258.99 L79.09,259.43 L78.44,259.77 L77.75,260.00 L77.03,260.12 L76.30,260.12 L75.59,260.00 L74.91,259.79 L74.27,259.50 L73.69,259.12 L73.16,258.69 L72.70,258.20 L72.30,257.67 L71.96,257.11 L71.68,256.51 L71.47,255.89 L71.32,255.26 L71.24,254.60 L71.23,253.93 L71.30,253.26 L71.45,252.59 L71.69,251.94 L72.01,251.31 L72.43,250.73 L72.93,250.21 L73.51,249.77 L74.16,249.43 L74.85,249.20 L75.57,249.08 L76.30,249.08 L77.01,249.20 L77.69,249.41 L78.33,249.70 L78.91,250.08 L79.44,250.51 L79.90,251.00 L80.30,251.53 L80.64,252.09 L80.92,252.69 L81.13,253.31 L81.28,253.94Z" fill="#000" fill-opacity="0.02" stroke="#888" stroke-width="0.5" stroke-linejoin="round"/><path d="M80.87,254.60 L80.88,255.20 L80.82,255.81 L80.68,256.42 L80.47,257.01 L80.17,257.57 L79.80,258.10 L79.35,258.57 L78.82,258.97 L78.24,259.28 L77.61,259.48 L76.96,259.59 L76.30,259.59 L75.66,259.49 L75.04,259.30 L74.47,259.03 L73.94,258.69 L73.47,258.29 L73.04,257.86 L72.68,257.38 L72.38,256.87 L72.12,256.33 L71.93,255.77 L71.80,255.19 L71.73,254.60 L71.72,254.00 L71.78,253.39 L71.92,252.78 L72.13,252.19 L72.43,251.63 L72.80,251.10 L73.25,250.63 L73.78,250.23 L74.36,249.92 L74.99,249.72 L75.64,249.61 L76.30,249.61 L76.94,249.71 L77.56,249.90 L78.13,250.17 L78.66,250.51 L79.13,250.91 L79.56,251.34 L79.92,251.82 L80.22,252.33 L80.48,252.87 L80.67,253.43 L80.80,254.01Z" fill="#000" fill-opacity="0.02" stroke="#808080" stroke-width="0.5" stroke-linejoin="round"/><path d="M80.39,254.60 L80.39,255.14 L80.34,255.68 L80.22,256.22 L80.03,256.75 L79.76,257.26 L79.43,257.73 L79.02,258.15 L78.55,258.50 L78.03,258.78 L77.47,258.97 L76.89,259.06 L76.30,259.06 L75.73,258.97 L75.18,258.80 L74.66,258.56 L74.19,258.25 L73.77,257.90 L73.39,257.51 L73.07,257.08 L72.79,256.63 L72.57,256.15 L72.40,255.65 L72.28,255.13 L72.21,254.60 L72.21,254.06 L72.26,253.52 L72.38,252.98 L72.57,252.45 L72.84,251.94 L73.17,251.47 L73.58,251.05 L74.05,250.70 L74.57,250.42 L75.13,250.23 L75.71,250.14 L76.30,250.14 L76.87,250.23 L77.42,250.40 L77.94,250.64 L78.41,250.95 L78.83,251.30 L79.21,251.69 L79.53,252.12 L79.81,252.57 L80.03,253.05 L80.20,253.55 L80.32,254.07Z" fill="#000" fill-opacity="0.02" stroke="#777" stroke-width="0.5" stroke-linejoin="round"/><path d="M79.90,254.60 L79.91,255.07 L79.86,255.55 L79.75,256.03 L79.59,256.50 L79.35,256.94 L79.06,257.36 L78.70,257.73 L78.29,258.04 L77.83,258.28 L77.33,258.45 L76.82,258.53 L76.30,258.53 L75.79,258.45 L75.31,258.30 L74.86,258.09 L74.44,257.82 L74.07,257.51 L73.74,257.16 L73.45,256.79 L73.21,256.38 L73.01,255.96 L72.86,255.52 L72.76,255.07 L72.70,254.60 L72.69,254.13 L72.74,253.65 L72.85,253.17 L73.01,252.70 L73.25,252.26 L73.54,251.84 L73.90,251.47 L74.31,251.16 L74.77,250.92 L75.27,250.75 L75.78,250.67 L76.30,250.67 L76.81,250.75 L77.29,250.90 L77.74,251.11 L78.16,251.38 L78.53,251.69 L78.86,252.04 L79.15,252.41 L79.39,252.82 L79.59,253.24 L79.74,253.68 L79.84,254.13Z" fill="#000" fill-opacity="0.02" stroke="#707070" stroke-width="0.5" stroke-linejoin="round"/><path d="M79.42,254.60 L79.42,255.01 L79.38,255.42 L79.29,255.84 L79.14,256.24 L78.94,256.63 L78.69,256.99 L78.38,257.31 L78.02,257.58 L77.62,257.79 L77.19,257.93 L76.75,258.00 L76.30,258.00 L75.86,257.93 L75.44,257.80 L75.05,257.62 L74.69,257.39 L74.37,257.12 L74.08,256.82 L73.83,256.49 L73.63,256.14 L73.45,255.78 L73.32,255.40 L73.23,255.00 L73.18,254.60 L73.18,254.19 L73.22,253.78 L73.31,253.36 L73.46,252.96 L73.66,252.57 L73.91,252.21 L74.22,251.89 L74.58,251.62 L74.98,251.41 L75.41,251.27 L75.85,251.20 L76.30,251.20 L76.74,251.27 L77.16,251.40 L77.55,251.58 L77.91,251.81 L78.23,252.08 L78.52,252.38 L78.77,252.71 L78.97,253.06 L79.15,253.42 L79.28,253.80 L79.37,254.20Z" fill="#000" fill-opacity="0.02" stroke="#666" stroke-width="0.5" stroke-linejoin="round"/><path d="M78.93,254.60 L78.94,254.95 L78.90,255.30 L78.82,255.64 L78.70,255.99 L78.53,256.31 L78.31,256.61 L78.05,256.89 L77.75,257.11 L77.41,257.29 L77.05,257.41 L76.68,257.47 L76.30,257.47 L75.93,257.41 L75.58,257.30 L75.24,257.15 L74.94,256.95 L74.67,256.73 L74.43,256.47 L74.22,256.20 L74.04,255.90 L73.90,255.60 L73.79,255.27 L73.71,254.94 L73.67,254.60 L73.66,254.25 L73.70,253.90 L73.78,253.56 L73.90,253.21 L74.07,252.89 L74.29,252.59 L74.55,252.31 L74.85,252.09 L75.19,251.91 L75.55,251.79 L75.92,251.73 L76.30,251.73 L76.67,251.79 L77.02,251.90 L77.36,252.05 L77.66,252.25 L77.93,252.47 L78.17,252.73 L78.38,253.00 L78.56,253.30 L78.70,253.60 L78.81,253.93 L78.89,254.26Z" fill="#000" fill-opacity="0.02" stroke="#606060" stroke-width="0.5" stroke-linejoin="round"/><path d="M78.45,254.60 L78.45,254.88 L78.42,255.17 L78.36,255.45 L78.26,255.73 L78.12,256.00 L77.94,256.24 L77.73,256.46 L77.48,256.65 L77.21,256.80 L76.91,256.89 L76.61,256.94 L76.30,256.94 L76.00,256.89 L75.71,256.80 L75.44,256.68 L75.19,256.52 L74.97,256.33 L74.77,256.13 L74.60,255.90 L74.46,255.66 L74.34,255.41 L74.25,255.15 L74.19,254.88 L74.15,254.60 L74.15,254.32 L74.18,254.03 L74.24,253.75 L74.34,253.47 L74.48,253.20 L74.66,252.96 L74.87,252.74 L75.12,252.55 L75.39,252.40 L75.69,252.31 L75.99,252.26 L76.30,252.26 L76.60,252.31 L76.89,252.40 L77.16,252.52 L77.41,252.68 L77.63,252.87 L77.83,253.07 L78.00,253.30 L78.14,253.54 L78.26,253.79 L78.35,254.05 L78.41,254.32Z" fill="#000" fill-opacity="0.02" stroke="#555" stroke-width="0.5" stroke-linejoin="round"/><path d="M77.96,254.60 L77.96,254.82 L77.94,255.04 L77.89,255.26 L77.81,255.47 L77.71,255.68 L77.57,255.87 L77.41,256.04 L77.22,256.19 L77.00,256.30 L76.78,256.37 L76.54,256.41 L76.30,256.41 L76.07,256.37 L75.84,256.31 L75.63,256.21 L75.44,256.08 L75.27,255.94 L75.12,255.78 L74.99,255.61 L74.88,255.42 L74.78,255.23 L74.72,255.02 L74.67,254.81 L74.64,254.60 L74.64,254.38 L74.66,254.16 L74.71,253.94 L74.79,253.73 L74.89,253.52 L75.03,253.33 L75.19,253.16 L75.38,253.01 L75.60,252.90 L75.82,252.83 L76.06,252.79 L76.30,252.79 L76.53,252.83 L76.76,252.89 L76.97,252.99 L77.16,253.12 L77.33,253.26 L77.48,253.42 L77.61,253.59 L77.72,253.78 L77.82,253.97 L77.88,254.18 L77.93,254.39Z" fill="#000" fill-opacity="0.02" stroke="#505050" stroke-width="0.5" stroke-linejoin="round"/><path d="M77.47,254.60 L77.48,254.75 L77.46,254.91 L77.43,255.07 L77.37,255.22 L77.30,255.36 L77.20,255.50 L77.08,255.62 L76.95,255.72 L76.80,255.80 L76.64,255.86 L76.47,255.88 L76.30,255.88 L76.13,255.86 L75.98,255.81 L75.83,255.74 L75.69,255.65 L75.57,255.55 L75.46,255.44 L75.37,255.31 L75.29,255.18 L75.23,255.04 L75.18,254.90 L75.14,254.75 L75.13,254.60 L75.12,254.45 L75.14,254.29 L75.17,254.13 L75.23,253.98 L75.30,253.84 L75.40,253.70 L75.52,253.58 L75.65,253.48 L75.80,253.40 L75.96,253.34 L76.13,253.32 L76.30,253.32 L76.47,253.34 L76.62,253.39 L76.77,253.46 L76.91,253.55 L77.03,253.65 L77.14,253.76 L77.23,253.89 L77.31,254.02 L77.37,254.16 L77.42,254.30 L77.46,254.45Z" fill="#000" fill-opacity="0.02" stroke="#4a4a4a" stroke-width="0.5" stroke-linejoin="round"/><ellipse cx="76.3" cy="254.6" rx="0.9" ry="0.9" fill="#fff" fill-opacity="0.7"/></g>
<g clip-path="url(#c2)"><path d="M179.94,263.00 L180.22,266.14 L180.32,269.41 L180.23,272.87 L179.85,276.54 L178.80,280.19 L175.75,282.35 L169.52,280.10 L165.41,278.60 L162.48,277.68 L160.15,276.98 L158.16,276.37 L156.40,275.80 L154.79,275.25 L153.26,274.71 L151.77,274.17 L150.28,273.60 L148.73,273.00 L147.07,272.33 L145.27,271.54 L143.27,270.58 L140.95,269.40 L123.59,271.79 L122.93,267.41 L122.88,263.00 L123.31,258.64 L136.87,257.77 L139.82,256.13 L142.33,254.88 L144.44,253.82 L146.25,252.85 L147.95,251.98 L149.64,251.29 L151.33,250.75 L152.99,250.27 L154.67,249.87 L156.40,249.57 L158.19,249.40 L160.04,249.42 L161.95,249.61 L163.94,249.95 L166.03,250.45 L168.29,251.11 L170.75,251.99 L173.40,253.19 L175.93,254.91 L177.95,257.22 L179.27,259.99Z" fill="#000" fill-opacity="0.014" stroke="#999" stroke-width="0.5" stroke-linejoin="round"/><path d="M178.11,263.00 L178.42,265.90 L178.50,268.92 L178.34,272.09 L177.91,275.42 L176.81,278.66 L172.68,279.28 L167.43,277.37 L164.04,276.24 L161.59,275.52 L159.61,274.96 L157.91,274.47 L156.40,274.00 L155.01,273.53 L153.70,273.08 L152.42,272.62 L151.12,272.14 L149.78,271.63 L148.35,271.05 L146.77,270.39 L145.03,269.57 L143.03,268.54 L140.56,267.24 L122.86,267.42 L122.78,263.00 L123.58,258.68 L139.34,258.43 L142.07,257.07 L144.24,255.98 L146.03,255.05 L147.57,254.17 L149.03,253.40 L150.51,252.80 L151.97,252.30 L153.42,251.86 L154.88,251.48 L156.40,251.18 L157.98,251.01 L159.61,251.01 L161.31,251.15 L163.08,251.43 L164.96,251.84 L166.99,252.41 L169.21,253.17 L171.61,254.22 L174.01,255.71 L176.05,257.73 L177.41,260.23Z" fill="#000" fill-opacity="0.014" stroke="#999" stroke-width="0.5" stroke-linejoin="round"/><path d="M176.34,263.00 L176.70,265.67 L176.59,268.41 L175.99,271.12 L174.75,273.60 L171.82,274.83 L168.01,274.61 L164.99,274.20 L162.66,273.84 L160.73,273.46 L159.10,273.09 L157.68,272.74 L156.40,272.41 L155.20,272.08 L154.06,271.74 L152.92,271.39 L151.77,271.02 L150.56,270.61 L149.26,270.14 L147.79,269.61 L146.08,268.96 L144.02,268.13 L141.49,267.00 L138.17,265.40 L135.22,263.00 L137.67,260.53 L140.54,258.75 L142.90,257.41 L144.96,256.40 L146.76,255.60 L148.35,254.95 L149.78,254.37 L151.12,253.86 L152.42,253.40 L153.73,253.02 L155.05,252.74 L156.40,252.57 L157.78,252.51 L159.20,252.55 L160.68,252.68 L162.23,252.90 L163.90,253.23 L165.70,253.70 L167.65,254.36 L169.76,255.29 L171.92,256.57 L173.88,258.32 L175.38,260.50Z" fill="#000" fill-opacity="0.014" stroke="#999" stroke-width="0.5" stroke-linejoin="round"/><path d="M173.83,263.00 L173.98,265.31 L173.61,267.61 L172.79,269.79 L171.49,271.71 L169.26,272.87 L166.56,273.16 L164.27,273.26 L162.34,273.29 L160.64,273.23 L159.11,273.13 L157.72,272.99 L156.40,272.81 L155.14,272.60 L153.90,272.34 L152.66,272.03 L151.40,271.65 L150.10,271.20 L148.74,270.66 L147.29,269.99 L145.72,269.17 L144.01,268.13 L142.15,266.82 L140.04,265.15 L138.34,263.00 L139.61,260.79 L141.35,258.97 L143.06,257.47 L144.77,256.29 L146.43,255.35 L148.02,254.62 L149.52,254.03 L150.95,253.56 L152.34,253.19 L153.70,252.92 L155.05,252.75 L156.40,252.67 L157.76,252.70 L159.13,252.81 L160.54,253.01 L162.00,253.30 L163.53,253.71 L165.14,254.26 L166.84,254.99 L168.60,255.96 L170.36,257.22 L171.93,258.84 L173.13,260.80Z" fill="#000" fill-opacity="0.014" stroke="#999" stroke-width="0.5" stroke-linejoin="round"/><path d="M171.69,263.00 L171.64,265.01 L171.06,266.93 L170.04,268.65 L168.69,270.09 L167.06,271.18 L165.32,271.92 L163.65,272.45 L162.07,272.81 L160.56,273.05 L159.12,273.17 L157.74,273.20 L156.40,273.16 L155.08,273.04 L153.76,272.85 L152.44,272.57 L151.09,272.20 L149.71,271.72 L148.30,271.10 L146.85,270.32 L145.41,269.35 L144.00,268.14 L142.72,266.67 L141.65,264.94 L141.02,263.00 L141.27,261.01 L142.05,259.15 L143.20,257.53 L144.61,256.19 L146.15,255.14 L147.73,254.33 L149.29,253.74 L150.80,253.31 L152.26,253.02 L153.68,252.84 L155.05,252.76 L156.40,252.77 L157.74,252.86 L159.07,253.03 L160.42,253.29 L161.80,253.65 L163.21,254.13 L164.66,254.74 L166.13,255.53 L167.61,256.53 L169.03,257.77 L170.27,259.28 L171.20,261.05Z" fill="#000" fill-opacity="0.014" stroke="#909090" stroke-width="0.5" stroke-linejoin="round"/><path d="M170.35,263.00 L170.28,264.83 L169.70,266.56 L168.71,268.10 L167.44,269.38 L166.02,270.38 L164.54,271.14 L163.08,271.70 L161.65,272.09 L160.28,272.36 L158.95,272.51 L157.66,272.57 L156.40,272.55 L155.16,272.45 L153.91,272.28 L152.66,272.02 L151.39,271.68 L150.09,271.22 L148.76,270.64 L147.41,269.89 L146.08,268.96 L144.81,267.80 L143.70,266.40 L142.87,264.78 L142.45,263.00 L142.52,261.17 L143.10,259.44 L144.09,257.90 L145.36,256.62 L146.78,255.62 L148.26,254.86 L149.72,254.30 L151.15,253.91 L152.52,253.64 L153.85,253.49 L155.14,253.43 L156.40,253.45 L157.64,253.55 L158.89,253.72 L160.14,253.98 L161.41,254.32 L162.71,254.78 L164.04,255.36 L165.39,256.11 L166.72,257.04 L167.99,258.20 L169.10,259.60 L169.93,261.22Z" fill="#000" fill-opacity="0.014" stroke="#8a8a8a" stroke-width="0.5" stroke-linejoin="round"/><path d="M169.17,263.00 L169.11,264.67 L168.58,266.26 L167.67,267.67 L166.51,268.84 L165.20,269.76 L163.86,270.46 L162.51,270.97 L161.21,271.32 L159.95,271.56 L158.73,271.70 L157.55,271.76 L156.40,271.74 L155.26,271.65 L154.12,271.49 L152.98,271.26 L151.81,270.94 L150.62,270.53 L149.41,269.99 L148.17,269.31 L146.95,268.45 L145.79,267.40 L144.78,266.11 L144.01,264.63 L143.63,263.00 L143.69,261.33 L144.22,259.74 L145.13,258.33 L146.29,257.16 L147.60,256.24 L148.94,255.54 L150.29,255.03 L151.59,254.68 L152.85,254.44 L154.07,254.30 L155.25,254.24 L156.40,254.26 L157.54,254.35 L158.68,254.51 L159.82,254.74 L160.99,255.06 L162.18,255.47 L163.39,256.01 L164.63,256.69 L165.85,257.55 L167.01,258.60 L168.02,259.89 L168.79,261.37Z" fill="#000" fill-opacity="0.014" stroke="#888" stroke-width="0.5" stroke-linejoin="round"/><path d="M167.99,263.00 L167.93,264.52 L167.46,265.96 L166.63,267.24 L165.58,268.30 L164.39,269.13 L163.17,269.77 L161.95,270.23 L160.76,270.56 L159.62,270.77 L158.52,270.90 L157.45,270.95 L156.40,270.93 L155.37,270.85 L154.33,270.71 L153.29,270.50 L152.24,270.21 L151.16,269.83 L150.05,269.35 L148.93,268.73 L147.83,267.95 L146.77,266.99 L145.85,265.83 L145.15,264.48 L144.81,263.00 L144.87,261.48 L145.34,260.04 L146.17,258.76 L147.22,257.70 L148.41,256.87 L149.63,256.23 L150.85,255.77 L152.04,255.44 L153.18,255.23 L154.28,255.10 L155.35,255.05 L156.40,255.07 L157.43,255.15 L158.47,255.29 L159.51,255.50 L160.56,255.79 L161.64,256.17 L162.75,256.65 L163.87,257.27 L164.97,258.05 L166.03,259.01 L166.95,260.17 L167.65,261.52Z" fill="#000" fill-opacity="0.014" stroke="#808080" stroke-width="0.5" stroke-linejoin="round"/><path d="M166.82,263.00 L166.76,264.36 L166.33,265.66 L165.59,266.81 L164.65,267.76 L163.58,268.51 L162.48,269.08 L161.38,269.49 L160.32,269.79 L159.29,269.98 L158.30,270.09 L157.34,270.14 L156.40,270.12 L155.47,270.05 L154.54,269.92 L153.61,269.73 L152.66,269.48 L151.69,269.14 L150.70,268.70 L149.69,268.15 L148.70,267.45 L147.75,266.58 L146.92,265.54 L146.30,264.33 L145.98,263.00 L146.04,261.64 L146.47,260.34 L147.21,259.19 L148.15,258.24 L149.22,257.49 L150.32,256.92 L151.42,256.51 L152.48,256.21 L153.51,256.02 L154.50,255.91 L155.46,255.86 L156.40,255.88 L157.33,255.95 L158.26,256.08 L159.19,256.27 L160.14,256.52 L161.11,256.86 L162.10,257.30 L163.11,257.85 L164.10,258.55 L165.05,259.42 L165.88,260.46 L166.50,261.67Z" fill="#000" fill-opacity="0.014" stroke="#7a7a7a" stroke-width="0.5" stroke-linejoin="round"/><path d="M165.64,263.00 L165.59,264.21 L165.21,265.36 L164.55,266.38 L163.71,267.22 L162.77,267.89 L161.79,268.39 L160.82,268.76 L159.87,269.02 L158.96,269.19 L158.09,269.29 L157.23,269.33 L156.40,269.32 L155.58,269.25 L154.76,269.14 L153.93,268.97 L153.08,268.74 L152.22,268.44 L151.34,268.06 L150.45,267.56 L149.57,266.94 L148.73,266.18 L147.99,265.25 L147.44,264.18 L147.16,263.00 L147.21,261.79 L147.59,260.64 L148.25,259.62 L149.09,258.78 L150.03,258.11 L151.01,257.61 L151.98,257.24 L152.93,256.98 L153.84,256.81 L154.71,256.71 L155.57,256.67 L156.40,256.68 L157.22,256.75 L158.04,256.86 L158.87,257.03 L159.72,257.26 L160.58,257.56 L161.46,257.94 L162.35,258.44 L163.23,259.06 L164.07,259.82 L164.81,260.75 L165.36,261.82Z" fill="#000" fill-opacity="0.014" stroke="#777" stroke-width="0.5" stroke-linejoin="round"/><path d="M164.46,263.00 L164.42,264.06 L164.09,265.06 L163.51,265.95 L162.78,266.68 L161.96,267.26 L161.10,267.70 L160.26,268.02 L159.43,268.25 L158.64,268.40 L157.87,268.49 L157.13,268.52 L156.40,268.51 L155.68,268.46 L154.97,268.35 L154.24,268.21 L153.51,268.01 L152.76,267.75 L151.99,267.41 L151.21,266.98 L150.44,266.44 L149.70,265.77 L149.06,264.97 L148.58,264.03 L148.34,263.00 L148.38,261.94 L148.71,260.94 L149.29,260.05 L150.02,259.32 L150.84,258.74 L151.70,258.30 L152.54,257.98 L153.37,257.75 L154.16,257.60 L154.93,257.51 L155.67,257.48 L156.40,257.49 L157.12,257.54 L157.83,257.65 L158.56,257.79 L159.29,257.99 L160.04,258.25 L160.81,258.59 L161.59,259.02 L162.36,259.56 L163.10,260.23 L163.74,261.03 L164.22,261.97Z" fill="#000" fill-opacity="0.014" stroke="#707070" stroke-width="0.5" stroke-linejoin="round"/><path d="M163.28,263.00 L163.25,263.90 L162.97,264.76 L162.48,265.52 L161.85,266.15 L161.14,266.64 L160.41,267.01 L159.69,267.29 L158.99,267.48 L158.31,267.61 L157.65,267.68 L157.02,267.71 L156.40,267.70 L155.79,267.66 L155.18,267.57 L154.56,267.45 L153.93,267.28 L153.29,267.05 L152.64,266.76 L151.97,266.40 L151.31,265.94 L150.68,265.37 L150.14,264.68 L149.72,263.88 L149.52,263.00 L149.55,262.10 L149.83,261.24 L150.32,260.48 L150.95,259.85 L151.66,259.36 L152.39,258.99 L153.11,258.71 L153.81,258.52 L154.49,258.39 L155.15,258.32 L155.78,258.29 L156.40,258.30 L157.01,258.34 L157.62,258.43 L158.24,258.55 L158.87,258.72 L159.51,258.95 L160.16,259.24 L160.83,259.60 L161.49,260.06 L162.12,260.63 L162.66,261.32 L163.08,262.12Z" fill="#000" fill-opacity="0.014" stroke="#6a6a6a" stroke-width="0.5" stroke-linejoin="round"/><path d="M162.11,263.00 L162.08,263.75 L161.84,264.46 L161.44,265.09 L160.91,265.61 L160.33,266.02 L159.73,266.33 L159.13,266.55 L158.54,266.71 L157.98,266.82 L157.44,266.88 L156.91,266.90 L156.40,266.90 L155.89,266.86 L155.39,266.79 L154.87,266.68 L154.35,266.54 L153.82,266.36 L153.28,266.12 L152.73,265.82 L152.18,265.43 L151.66,264.96 L151.21,264.39 L150.87,263.73 L150.69,263.00 L150.72,262.25 L150.96,261.54 L151.36,260.91 L151.89,260.39 L152.47,259.98 L153.07,259.67 L153.67,259.45 L154.26,259.29 L154.82,259.18 L155.36,259.12 L155.89,259.10 L156.40,259.10 L156.91,259.14 L157.41,259.21 L157.93,259.32 L158.45,259.46 L158.98,259.64 L159.52,259.88 L160.07,260.18 L160.62,260.57 L161.14,261.04 L161.59,261.61 L161.93,262.27Z" fill="#000" fill-opacity="0.014" stroke="#606060" stroke-width="0.5" stroke-linejoin="round"/><path d="M160.93,263.00 L160.91,263.59 L160.72,264.16 L160.40,264.66 L159.98,265.07 L159.52,265.39 L159.04,265.64 L158.56,265.82 L158.10,265.94 L157.65,266.03 L157.22,266.08 L156.81,266.10 L156.40,266.09 L156.00,266.06 L155.60,266.00 L155.19,265.92 L154.78,265.81 L154.36,265.66 L153.93,265.47 L153.49,265.23 L153.06,264.93 L152.64,264.56 L152.28,264.10 L152.01,263.58 L151.87,263.00 L151.89,262.41 L152.08,261.84 L152.40,261.34 L152.82,260.93 L153.28,260.61 L153.76,260.36 L154.24,260.18 L154.70,260.06 L155.15,259.97 L155.58,259.92 L155.99,259.90 L156.40,259.91 L156.80,259.94 L157.20,260.00 L157.61,260.08 L158.02,260.19 L158.44,260.34 L158.87,260.53 L159.31,260.77 L159.74,261.07 L160.16,261.44 L160.52,261.90 L160.79,262.42Z" fill="#000" fill-opacity="0.014" stroke="#5a5a5a" stroke-width="0.5" stroke-linejoin="round"/><path d="M159.75,263.00 L159.74,263.44 L159.60,263.86 L159.36,264.22 L159.05,264.53 L158.71,264.77 L158.35,264.95 L158.00,265.08 L157.66,265.18 L157.33,265.24 L157.01,265.27 L156.70,265.29 L156.40,265.28 L156.10,265.26 L155.81,265.22 L155.51,265.16 L155.20,265.08 L154.89,264.97 L154.57,264.83 L154.25,264.65 L153.93,264.43 L153.62,264.15 L153.35,263.82 L153.15,263.43 L153.05,263.00 L153.06,262.56 L153.20,262.14 L153.44,261.78 L153.75,261.47 L154.09,261.23 L154.45,261.05 L154.80,260.92 L155.14,260.82 L155.47,260.76 L155.79,260.73 L156.10,260.71 L156.40,260.72 L156.70,260.74 L156.99,260.78 L157.29,260.84 L157.60,260.92 L157.91,261.03 L158.23,261.17 L158.55,261.35 L158.87,261.57 L159.18,261.85 L159.45,262.18 L159.65,262.57Z" fill="#000" fill-opacity="0.014" stroke="#555" stroke-width="0.5" stroke-linejoin="round"/><path d="M158.58,263.00 L158.56,263.28 L158.47,263.56 L158.32,263.79 L158.12,263.99 L157.89,264.15 L157.66,264.26 L157.43,264.35 L157.21,264.41 L157.00,264.45 L156.79,264.47 L156.59,264.48 L156.40,264.47 L156.21,264.46 L156.02,264.43 L155.82,264.39 L155.63,264.34 L155.42,264.27 L155.22,264.18 L155.01,264.07 L154.80,263.92 L154.60,263.75 L154.42,263.53 L154.29,263.28 L154.22,263.00 L154.24,262.72 L154.33,262.44 L154.48,262.21 L154.68,262.01 L154.91,261.85 L155.14,261.74 L155.37,261.65 L155.59,261.59 L155.80,261.55 L156.01,261.53 L156.21,261.52 L156.40,261.53 L156.59,261.54 L156.78,261.57 L156.98,261.61 L157.17,261.66 L157.38,261.73 L157.58,261.82 L157.79,261.93 L158.00,262.08 L158.20,262.25 L158.38,262.47 L158.51,262.72Z" fill="#000" fill-opacity="0.014" stroke="#4a4a4a" stroke-width="0.5" stroke-linejoin="round"/><ellipse cx="155.8" cy="262.6" rx="1.3" ry="0.8" fill="#fff" fill-opacity="0.7"/></g>
<g clip-path="url(#c2)"><path d="M132.80,264.00 L132.80,264.46 L132.80,264.94 L132.80,265.45 L132.80,266.02 L132.78,266.67 L132.75,267.45 L132.68,268.41 L132.53,269.59 L132.18,270.95 L131.48,272.12 L130.47,272.88 L129.30,273.45 L128.01,273.82 L126.66,273.84 L125.46,273.26 L124.76,271.86 L124.49,270.27 L124.35,268.95 L124.26,267.86 L124.22,266.93 L124.19,266.11 L124.18,265.37 L124.18,264.67 L124.18,264.00 L124.19,263.33 L124.22,262.64 L124.25,261.91 L124.29,261.11 L124.36,260.21 L124.48,259.18 L124.67,257.97 L125.07,256.68 L125.92,255.84 L127.05,255.60 L128.21,255.75 L129.30,256.12 L130.28,256.59 L131.14,257.13 L131.87,257.80 L132.35,258.72 L132.60,259.70 L132.71,260.59 L132.77,261.34 L132.79,261.98 L132.80,262.55 L132.80,263.06 L132.80,263.54Z" fill="#000" fill-opacity="0.045" stroke="#999" stroke-width="0.5" stroke-linejoin="round"/><path d="M132.20,264.00 L132.20,264.38 L132.20,264.78 L132.20,265.20 L132.20,265.67 L132.18,266.21 L132.16,266.86 L132.10,267.65 L131.97,268.63 L131.69,269.77 L131.11,270.77 L130.28,271.46 L129.30,271.96 L128.22,272.21 L127.12,272.15 L126.15,271.61 L125.58,270.44 L125.35,269.14 L125.24,268.06 L125.17,267.17 L125.14,266.40 L125.12,265.73 L125.11,265.12 L125.10,264.55 L125.11,264.00 L125.12,263.45 L125.13,262.88 L125.16,262.28 L125.20,261.63 L125.25,260.89 L125.35,260.05 L125.50,259.05 L125.83,257.99 L126.51,257.26 L127.43,257.01 L128.38,257.05 L129.30,257.30 L130.13,257.72 L130.85,258.23 L131.44,258.83 L131.83,259.62 L132.03,260.44 L132.13,261.17 L132.17,261.80 L132.19,262.33 L132.20,262.80 L132.20,263.22 L132.20,263.62Z" fill="#000" fill-opacity="0.045" stroke="#888" stroke-width="0.5" stroke-linejoin="round"/><path d="M131.60,264.00 L131.60,264.30 L131.60,264.62 L131.60,264.95 L131.60,265.33 L131.59,265.75 L131.56,266.26 L131.52,266.89 L131.42,267.67 L131.20,268.59 L130.75,269.42 L130.09,270.03 L129.30,270.47 L128.43,270.60 L127.57,270.45 L126.83,269.97 L126.40,269.03 L126.22,268.01 L126.13,267.17 L126.08,266.47 L126.06,265.87 L126.04,265.35 L126.03,264.88 L126.03,264.43 L126.03,264.00 L126.04,263.57 L126.05,263.13 L126.07,262.66 L126.10,262.15 L126.14,261.58 L126.21,260.91 L126.33,260.14 L126.58,259.29 L127.10,258.69 L127.80,258.42 L128.56,258.34 L129.30,258.47 L129.98,258.85 L130.55,259.33 L131.01,259.87 L131.31,260.51 L131.47,261.17 L131.54,261.76 L131.58,262.25 L131.59,262.68 L131.60,263.05 L131.60,263.38 L131.60,263.70Z" fill="#000" fill-opacity="0.045" stroke="#777" stroke-width="0.5" stroke-linejoin="round"/><path d="M131.00,264.00 L131.00,264.22 L131.00,264.46 L131.00,264.70 L131.00,264.98 L130.99,265.29 L130.97,265.67 L130.94,266.14 L130.87,266.71 L130.71,267.40 L130.39,268.07 L129.91,268.61 L129.30,268.98 L128.64,268.99 L128.03,268.76 L127.51,268.32 L127.21,267.62 L127.09,266.88 L127.03,266.27 L126.99,265.77 L126.97,265.34 L126.96,264.97 L126.95,264.63 L126.95,264.31 L126.95,264.00 L126.96,263.69 L126.97,263.37 L126.98,263.04 L127.00,262.67 L127.03,262.26 L127.08,261.78 L127.16,261.22 L127.33,260.60 L127.69,260.12 L128.18,259.82 L128.73,259.64 L129.30,259.65 L129.83,259.97 L130.26,260.43 L130.58,260.90 L130.79,261.41 L130.91,261.91 L130.96,262.34 L130.98,262.71 L130.99,263.02 L131.00,263.30 L131.00,263.54 L131.00,263.78Z" fill="#000" fill-opacity="0.045" stroke="#666" stroke-width="0.5" stroke-linejoin="round"/><path d="M130.40,264.00 L130.40,264.14 L130.40,264.29 L130.40,264.45 L130.39,264.63 L130.39,264.84 L130.38,265.08 L130.36,265.38 L130.31,265.75 L130.22,266.22 L130.03,266.72 L129.72,267.19 L129.30,267.49 L128.86,267.38 L128.48,267.06 L128.19,266.68 L128.03,266.21 L127.96,265.75 L127.92,265.38 L127.90,265.07 L127.89,264.81 L127.88,264.59 L127.88,264.38 L127.88,264.19 L127.88,264.00 L127.88,263.81 L127.88,263.62 L127.89,263.42 L127.90,263.19 L127.92,262.94 L127.95,262.65 L127.99,262.30 L128.09,261.90 L128.28,261.54 L128.56,261.23 L128.90,260.94 L129.30,260.82 L129.68,261.10 L129.96,261.54 L130.16,261.93 L130.28,262.31 L130.34,262.64 L130.37,262.93 L130.39,263.17 L130.39,263.37 L130.40,263.55 L130.40,263.71 L130.40,263.86Z" fill="#000" fill-opacity="0.045" stroke="#555" stroke-width="0.5" stroke-linejoin="round"/></g>
<g clip-path="url(#c3)"><path d="M273.55,252.80 L273.44,254.33 L273.25,255.87 L272.96,257.42 L272.51,258.98 L271.77,260.45 L270.74,261.74 L269.44,262.76 L268.00,263.54 L266.49,264.13 L264.95,264.56 L263.38,264.83 L261.80,264.92 L260.21,264.84 L258.63,264.64 L257.03,264.33 L255.39,263.91 L253.73,263.32 L252.04,262.56 L250.22,261.69 L238.59,266.20 L231.78,265.23 L231.19,261.00 L231.00,256.85 L231.06,252.80 L231.46,248.81 L234.50,245.48 L246.33,246.39 L248.95,245.38 L251.10,244.59 L253.02,244.02 L254.71,243.56 L256.25,243.19 L257.70,242.90 L259.09,242.68 L260.44,242.51 L261.80,242.37 L263.18,242.29 L264.62,242.27 L266.12,242.37 L267.70,242.58 L269.31,243.01 L270.79,243.81 L271.94,245.02 L272.74,246.48 L273.24,248.06 L273.49,249.67 L273.57,251.25Z" fill="#000" fill-opacity="0.008" stroke="#888" stroke-width="0.5" stroke-linejoin="round"/><path d="M273.10,252.80 L272.99,254.27 L272.80,255.75 L272.52,257.24 L272.07,258.73 L271.36,260.13 L270.36,261.36 L269.11,262.33 L267.73,263.08 L266.29,263.64 L264.82,264.06 L263.32,264.32 L261.80,264.41 L260.28,264.35 L258.76,264.16 L257.22,263.87 L255.64,263.48 L254.03,262.92 L252.40,262.20 L250.65,261.35 L241.66,264.43 L236.16,263.42 L235.08,259.96 L231.66,256.77 L231.02,252.80 L231.66,248.83 L237.93,246.40 L247.19,246.75 L249.59,245.75 L251.63,244.99 L253.44,244.44 L255.04,243.99 L256.51,243.64 L257.89,243.36 L259.21,243.15 L260.51,242.99 L261.80,242.87 L263.12,242.79 L264.49,242.78 L265.92,242.86 L267.43,243.05 L268.98,243.44 L270.42,244.18 L271.55,245.31 L272.33,246.72 L272.82,248.24 L273.05,249.78 L273.13,251.31Z" fill="#000" fill-opacity="0.008" stroke="#888" stroke-width="0.5" stroke-linejoin="round"/><path d="M272.65,252.80 L272.53,254.21 L272.35,255.63 L272.07,257.05 L271.63,258.47 L270.94,259.81 L269.97,260.97 L268.78,261.90 L267.47,262.61 L266.09,263.16 L264.68,263.56 L263.25,263.81 L261.80,263.91 L260.35,263.85 L258.89,263.68 L257.41,263.41 L255.89,263.04 L254.34,262.52 L252.76,261.84 L251.09,261.02 L244.73,262.65 L240.54,261.61 L238.96,258.92 L232.31,256.68 L230.97,252.80 L231.86,248.86 L241.36,247.32 L248.04,247.10 L250.24,246.12 L252.15,245.40 L253.85,244.85 L255.37,244.42 L256.77,244.08 L258.08,243.82 L259.34,243.62 L260.57,243.47 L261.80,243.36 L263.05,243.29 L264.35,243.28 L265.72,243.35 L267.16,243.51 L268.66,243.86 L270.06,244.54 L271.17,245.61 L271.93,246.95 L272.39,248.41 L272.62,249.90 L272.68,251.37Z" fill="#000" fill-opacity="0.008" stroke="#888" stroke-width="0.5" stroke-linejoin="round"/><path d="M272.20,252.80 L272.08,254.15 L271.90,255.51 L271.62,256.87 L271.19,258.22 L270.52,259.49 L269.59,260.59 L268.45,261.47 L267.20,262.15 L265.89,262.67 L264.55,263.06 L263.18,263.31 L261.80,263.40 L260.41,263.35 L259.01,263.20 L257.59,262.95 L256.14,262.61 L254.64,262.13 L253.13,261.47 L251.52,260.69 L247.80,260.88 L244.91,259.80 L242.85,257.88 L232.96,256.60 L230.93,252.80 L232.07,248.89 L244.78,248.24 L248.90,247.46 L250.88,246.50 L252.67,245.80 L254.27,245.27 L255.70,244.85 L257.02,244.53 L258.27,244.27 L259.47,244.09 L260.64,243.95 L261.80,243.86 L262.99,243.80 L264.22,243.78 L265.51,243.84 L266.89,243.98 L268.33,244.29 L269.69,244.91 L270.78,245.91 L271.52,247.19 L271.97,248.59 L272.18,250.02 L272.24,251.43Z" fill="#000" fill-opacity="0.008" stroke="#888" stroke-width="0.5" stroke-linejoin="round"/><path d="M271.77,252.80 L271.64,254.10 L271.45,255.39 L271.17,256.68 L270.75,257.97 L270.09,259.16 L269.19,260.19 L268.10,261.01 L266.91,261.65 L265.67,262.15 L264.40,262.52 L263.11,262.75 L261.80,262.84 L260.48,262.80 L259.16,262.67 L257.80,262.45 L256.41,262.14 L254.97,261.71 L253.49,261.11 L251.93,260.37 L250.18,259.51 L248.28,258.40 L245.93,257.05 L234.70,256.37 L232.30,252.80 L233.61,249.09 L247.46,248.96 L249.63,247.76 L251.46,246.83 L253.16,246.17 L254.66,245.66 L256.02,245.27 L257.28,244.97 L258.46,244.73 L259.59,244.57 L260.70,244.45 L261.80,244.36 L262.92,244.31 L264.08,244.30 L265.30,244.34 L266.61,244.46 L267.99,244.74 L269.31,245.29 L270.39,246.21 L271.12,247.42 L271.55,248.76 L271.76,250.13 L271.81,251.48Z" fill="#000" fill-opacity="0.008" stroke="#8a8a8a" stroke-width="0.5" stroke-linejoin="round"/><path d="M271.38,252.80 L271.24,254.04 L271.04,255.27 L270.74,256.50 L270.29,257.70 L269.62,258.80 L268.74,259.74 L267.69,260.48 L266.57,261.05 L265.41,261.51 L264.22,261.84 L263.02,262.04 L261.80,262.12 L260.58,262.09 L259.34,261.99 L258.06,261.82 L256.74,261.57 L255.34,261.22 L253.87,260.73 L252.27,260.12 L250.49,259.33 L248.64,258.25 L246.61,256.87 L239.69,255.71 L237.95,252.80 L239.17,249.82 L247.85,249.06 L249.99,247.91 L251.84,247.05 L253.52,246.45 L255.00,246.00 L256.32,245.66 L257.53,245.40 L258.65,245.21 L259.73,245.07 L260.77,244.97 L261.80,244.90 L262.85,244.86 L263.93,244.85 L265.08,244.89 L266.31,244.99 L267.61,245.22 L268.90,245.70 L270.00,246.51 L270.74,247.64 L271.15,248.93 L271.37,250.23 L271.43,251.53Z" fill="#000" fill-opacity="0.008" stroke="#8a8a8a" stroke-width="0.5" stroke-linejoin="round"/><path d="M270.90,252.80 L270.74,253.98 L270.51,255.13 L270.20,256.28 L269.73,257.38 L269.04,258.35 L268.17,259.17 L267.17,259.80 L266.14,260.31 L265.08,260.71 L264.00,261.00 L262.90,261.16 L261.80,261.21 L260.69,261.20 L259.57,261.14 L258.39,261.03 L257.15,260.86 L255.80,260.61 L254.34,260.26 L252.69,259.79 L250.87,259.11 L249.09,258.06 L247.46,256.64 L245.94,254.89 L245.01,252.80 L246.13,250.74 L248.35,249.20 L250.43,248.09 L252.31,247.32 L253.98,246.80 L255.43,246.43 L256.70,246.15 L257.84,245.94 L258.90,245.80 L259.90,245.70 L260.85,245.62 L261.80,245.57 L262.75,245.55 L263.74,245.55 L264.79,245.57 L265.93,245.65 L267.14,245.84 L268.39,246.21 L269.50,246.89 L270.26,247.92 L270.65,249.13 L270.89,250.36 L270.96,251.59Z" fill="#000" fill-opacity="0.008" stroke="#888" stroke-width="0.5" stroke-linejoin="round"/><path d="M270.70,252.80 L270.53,253.95 L270.23,255.06 L269.78,256.11 L269.20,257.07 L268.46,257.91 L267.60,258.60 L266.66,259.13 L265.70,259.56 L264.74,259.89 L263.76,260.13 L262.78,260.27 L261.80,260.33 L260.81,260.33 L259.79,260.29 L258.74,260.20 L257.61,260.05 L256.41,259.83 L255.09,259.51 L253.63,259.07 L252.05,258.43 L250.48,257.49 L249.07,256.21 L247.81,254.64 L247.11,252.80 L247.94,250.97 L249.66,249.55 L251.37,248.48 L253.00,247.72 L254.49,247.19 L255.82,246.82 L257.00,246.55 L258.08,246.35 L259.07,246.22 L260.01,246.13 L260.92,246.08 L261.80,246.06 L262.69,246.07 L263.60,246.10 L264.55,246.17 L265.56,246.29 L266.64,246.49 L267.74,246.86 L268.77,247.45 L269.56,248.32 L270.09,249.37 L270.48,250.47 L270.68,251.63Z" fill="#000" fill-opacity="0.008" stroke="#858585" stroke-width="0.5" stroke-linejoin="round"/><path d="M270.50,252.80 L270.33,253.92 L269.94,254.98 L269.37,255.94 L268.68,256.77 L267.88,257.47 L267.03,258.03 L266.15,258.46 L265.27,258.80 L264.40,259.07 L263.53,259.26 L262.67,259.39 L261.80,259.45 L260.92,259.47 L260.02,259.44 L259.08,259.37 L258.08,259.24 L257.01,259.05 L255.85,258.75 L254.57,258.34 L253.22,257.75 L251.88,256.91 L250.67,255.78 L249.69,254.39 L249.20,252.80 L249.75,251.21 L250.96,249.90 L252.32,248.87 L253.70,248.12 L255.00,247.59 L256.21,247.21 L257.31,246.94 L258.31,246.76 L259.25,246.64 L260.13,246.57 L260.98,246.54 L261.80,246.55 L262.62,246.58 L263.45,246.65 L264.30,246.76 L265.20,246.92 L266.13,247.15 L267.10,247.50 L268.04,248.01 L268.86,248.73 L269.53,249.60 L270.07,250.59 L270.40,251.67Z" fill="#000" fill-opacity="0.008" stroke="#808080" stroke-width="0.5" stroke-linejoin="round"/><path d="M270.30,252.80 L270.13,253.90 L269.65,254.90 L268.96,255.77 L268.16,256.47 L267.31,257.02 L266.46,257.46 L265.63,257.79 L264.83,258.05 L264.06,258.25 L263.30,258.40 L262.55,258.50 L261.80,258.57 L261.04,258.60 L260.25,258.59 L259.42,258.54 L258.55,258.43 L257.61,258.26 L256.60,258.00 L255.52,257.62 L254.39,257.08 L253.27,256.33 L252.27,255.35 L251.56,254.15 L251.30,252.80 L251.56,251.45 L252.27,250.25 L253.27,249.27 L254.39,248.52 L255.52,247.98 L256.60,247.60 L257.61,247.34 L258.55,247.17 L259.42,247.06 L260.25,247.01 L261.04,247.00 L261.80,247.03 L262.55,247.10 L263.30,247.20 L264.06,247.35 L264.83,247.55 L265.63,247.81 L266.46,248.14 L267.31,248.58 L268.16,249.13 L268.96,249.83 L269.65,250.70 L270.13,251.70Z" fill="#000" fill-opacity="0.008" stroke="#7a7a7a" stroke-width="0.5" stroke-linejoin="round"/><path d="M269.73,252.80 L269.56,253.82 L269.11,254.76 L268.45,255.56 L267.70,256.21 L266.91,256.72 L266.12,257.12 L265.35,257.42 L264.61,257.66 L263.89,257.84 L263.19,257.98 L262.49,258.07 L261.80,258.14 L261.09,258.16 L260.36,258.16 L259.60,258.11 L258.79,258.01 L257.92,257.86 L256.99,257.61 L255.98,257.26 L254.93,256.76 L253.89,256.08 L252.96,255.17 L252.29,254.05 L252.04,252.80 L252.29,251.55 L252.96,250.43 L253.89,249.52 L254.93,248.84 L255.98,248.34 L256.99,247.99 L257.92,247.74 L258.79,247.59 L259.60,247.49 L260.36,247.44 L261.09,247.44 L261.80,247.46 L262.49,247.53 L263.19,247.62 L263.89,247.76 L264.61,247.94 L265.35,248.18 L266.12,248.48 L266.91,248.88 L267.70,249.39 L268.45,250.04 L269.11,250.84 L269.56,251.78Z" fill="#000" fill-opacity="0.008" stroke="#777" stroke-width="0.5" stroke-linejoin="round"/><path d="M269.15,252.80 L268.99,253.75 L268.56,254.61 L267.95,255.35 L267.24,255.94 L266.51,256.41 L265.78,256.78 L265.07,257.06 L264.38,257.27 L263.72,257.44 L263.08,257.56 L262.44,257.65 L261.80,257.71 L261.15,257.73 L260.48,257.72 L259.78,257.68 L259.03,257.59 L258.23,257.45 L257.37,257.23 L256.45,256.91 L255.48,256.45 L254.51,255.82 L253.64,254.99 L253.02,253.96 L252.78,252.80 L253.02,251.64 L253.64,250.61 L254.51,249.78 L255.48,249.15 L256.45,248.69 L257.37,248.37 L258.23,248.15 L259.03,248.01 L259.78,247.92 L260.48,247.88 L261.15,247.87 L261.80,247.89 L262.44,247.95 L263.08,248.04 L263.72,248.16 L264.38,248.33 L265.07,248.54 L265.78,248.82 L266.51,249.19 L267.24,249.66 L267.95,250.25 L268.56,250.99 L268.99,251.85Z" fill="#000" fill-opacity="0.008" stroke="#727272" stroke-width="0.5" stroke-linejoin="round"/><path d="M268.57,252.80 L268.42,253.67 L268.01,254.47 L267.44,255.14 L266.78,255.68 L266.10,256.10 L265.43,256.43 L264.78,256.69 L264.16,256.88 L263.55,257.03 L262.96,257.15 L262.38,257.22 L261.80,257.27 L261.21,257.30 L260.60,257.29 L259.96,257.25 L259.28,257.17 L258.55,257.04 L257.76,256.84 L256.91,256.55 L256.02,256.13 L255.13,255.56 L254.33,254.80 L253.74,253.86 L253.53,252.80 L253.74,251.74 L254.33,250.80 L255.13,250.04 L256.02,249.47 L256.91,249.05 L257.76,248.76 L258.55,248.56 L259.28,248.43 L259.96,248.35 L260.60,248.31 L261.21,248.30 L261.80,248.33 L262.38,248.38 L262.96,248.45 L263.55,248.57 L264.16,248.72 L264.78,248.91 L265.43,249.17 L266.10,249.50 L266.78,249.92 L267.44,250.46 L268.01,251.13 L268.42,251.93Z" fill="#000" fill-opacity="0.008" stroke="#6a6a6a" stroke-width="0.5" stroke-linejoin="round"/><path d="M268.00,252.80 L267.85,253.60 L267.47,254.32 L266.93,254.93 L266.33,255.41 L265.70,255.80 L265.09,256.09 L264.50,256.32 L263.93,256.50 L263.39,256.63 L262.85,256.73 L262.33,256.80 L261.80,256.84 L261.26,256.87 L260.71,256.86 L260.13,256.82 L259.52,256.75 L258.86,256.63 L258.15,256.45 L257.38,256.19 L256.57,255.82 L255.75,255.30 L255.01,254.62 L254.47,253.76 L254.27,252.80 L254.47,251.84 L255.01,250.98 L255.75,250.30 L256.57,249.78 L257.38,249.41 L258.15,249.15 L258.86,248.97 L259.52,248.85 L260.13,248.78 L260.71,248.74 L261.26,248.73 L261.80,248.76 L262.33,248.80 L262.85,248.87 L263.39,248.97 L263.93,249.10 L264.50,249.28 L265.09,249.51 L265.70,249.80 L266.33,250.19 L266.93,250.67 L267.47,251.28 L267.85,252.00Z" fill="#000" fill-opacity="0.008" stroke="#666" stroke-width="0.5" stroke-linejoin="round"/><path d="M267.43,252.80 L267.29,253.52 L266.92,254.17 L266.42,254.72 L265.87,255.15 L265.30,255.49 L264.75,255.75 L264.22,255.95 L263.71,256.11 L263.22,256.22 L262.74,256.31 L262.27,256.37 L261.80,256.41 L261.32,256.43 L260.83,256.43 L260.31,256.39 L259.76,256.33 L259.17,256.23 L258.53,256.07 L257.84,255.84 L257.11,255.51 L256.38,255.05 L255.70,254.43 L255.20,253.67 L255.01,252.80 L255.20,251.93 L255.70,251.17 L256.38,250.55 L257.11,250.09 L257.84,249.76 L258.53,249.53 L259.17,249.37 L259.76,249.27 L260.31,249.21 L260.83,249.17 L261.32,249.17 L261.80,249.19 L262.27,249.23 L262.74,249.29 L263.22,249.38 L263.71,249.49 L264.22,249.65 L264.75,249.85 L265.30,250.11 L265.87,250.45 L266.42,250.88 L266.92,251.43 L267.29,252.08Z" fill="#000" fill-opacity="0.008" stroke="#606060" stroke-width="0.5" stroke-linejoin="round"/><path d="M266.85,252.80 L266.72,253.45 L266.38,254.03 L265.92,254.51 L265.41,254.89 L264.90,255.18 L264.41,255.41 L263.94,255.58 L263.48,255.72 L263.05,255.82 L262.63,255.90 L262.21,255.95 L261.80,255.98 L261.38,256.00 L260.94,255.99 L260.49,255.96 L260.00,255.91 L259.48,255.82 L258.92,255.68 L258.31,255.48 L257.66,255.19 L257.00,254.79 L256.39,254.25 L255.93,253.57 L255.75,252.80 L255.93,252.03 L256.39,251.35 L257.00,250.81 L257.66,250.41 L258.31,250.12 L258.92,249.92 L259.48,249.78 L260.00,249.69 L260.49,249.64 L260.94,249.61 L261.38,249.60 L261.80,249.62 L262.21,249.65 L262.63,249.70 L263.05,249.78 L263.48,249.88 L263.94,250.02 L264.41,250.19 L264.90,250.42 L265.41,250.71 L265.92,251.09 L266.38,251.57 L266.72,252.15Z" fill="#000" fill-opacity="0.008" stroke="#5a5a5a" stroke-width="0.5" stroke-linejoin="round"/><path d="M266.28,252.80 L266.15,253.37 L265.83,253.88 L265.41,254.30 L264.96,254.62 L264.50,254.87 L264.07,255.07 L263.65,255.22 L263.26,255.33 L262.88,255.42 L262.52,255.48 L262.16,255.52 L261.80,255.55 L261.44,255.57 L261.06,255.56 L260.67,255.54 L260.25,255.49 L259.80,255.41 L259.31,255.29 L258.77,255.12 L258.20,254.88 L257.62,254.53 L257.07,254.07 L256.65,253.48 L256.49,252.80 L256.65,252.12 L257.07,251.53 L257.62,251.07 L258.20,250.72 L258.77,250.48 L259.31,250.31 L259.80,250.19 L260.25,250.11 L260.67,250.06 L261.06,250.04 L261.44,250.03 L261.80,250.05 L262.16,250.08 L262.52,250.12 L262.88,250.18 L263.26,250.27 L263.65,250.38 L264.07,250.53 L264.50,250.73 L264.96,250.98 L265.41,251.30 L265.83,251.72 L266.15,252.23Z" fill="#000" fill-opacity="0.008" stroke="#555" stroke-width="0.5" stroke-linejoin="round"/><path d="M265.70,252.80 L265.58,253.30 L265.29,253.73 L264.90,254.09 L264.50,254.36 L264.10,254.57 L263.73,254.73 L263.37,254.85 L263.04,254.94 L262.72,255.01 L262.41,255.06 L262.10,255.10 L261.80,255.12 L261.49,255.13 L261.18,255.13 L260.84,255.11 L260.49,255.07 L260.11,255.01 L259.69,254.91 L259.24,254.77 L258.75,254.56 L258.24,254.27 L257.76,253.88 L257.38,253.38 L257.23,252.80 L257.38,252.22 L257.76,251.72 L258.24,251.33 L258.75,251.04 L259.24,250.83 L259.69,250.69 L260.11,250.59 L260.49,250.53 L260.84,250.49 L261.18,250.47 L261.49,250.47 L261.80,250.48 L262.10,250.50 L262.41,250.54 L262.72,250.59 L263.04,250.66 L263.37,250.75 L263.73,250.87 L264.10,251.03 L264.50,251.24 L264.90,251.51 L265.29,251.87 L265.58,252.30Z" fill="#000" fill-opacity="0.008" stroke="#505050" stroke-width="0.5" stroke-linejoin="round"/><path d="M265.12,252.80 L265.01,253.22 L264.74,253.59 L264.40,253.88 L264.04,254.09 L263.70,254.26 L263.39,254.39 L263.09,254.48 L262.81,254.55 L262.55,254.61 L262.29,254.65 L262.05,254.67 L261.80,254.69 L261.55,254.70 L261.29,254.69 L261.02,254.68 L260.73,254.65 L260.42,254.60 L260.08,254.52 L259.70,254.41 L259.29,254.25 L258.86,254.02 L258.44,253.70 L258.11,253.29 L257.98,252.80 L258.11,252.31 L258.44,251.90 L258.86,251.58 L259.29,251.35 L259.70,251.19 L260.08,251.08 L260.42,251.00 L260.73,250.95 L261.02,250.92 L261.29,250.91 L261.55,250.90 L261.80,250.91 L262.05,250.93 L262.29,250.95 L262.55,250.99 L262.81,251.05 L263.09,251.12 L263.39,251.21 L263.70,251.34 L264.04,251.51 L264.40,251.72 L264.74,252.01 L265.01,252.38Z" fill="#000" fill-opacity="0.008" stroke="#4a4a4a" stroke-width="0.5" stroke-linejoin="round"/><path d="M264.55,252.80 L264.45,253.15 L264.19,253.44 L263.89,253.66 L263.59,253.83 L263.30,253.95 L263.04,254.04 L262.81,254.11 L262.59,254.16 L262.38,254.20 L262.18,254.23 L261.99,254.25 L261.80,254.26 L261.61,254.27 L261.41,254.26 L261.20,254.25 L260.98,254.23 L260.73,254.19 L260.47,254.13 L260.17,254.05 L259.84,253.93 L259.48,253.76 L259.13,253.52 L258.84,253.19 L258.72,252.80 L258.84,252.41 L259.13,252.08 L259.48,251.84 L259.84,251.67 L260.17,251.55 L260.47,251.47 L260.73,251.41 L260.98,251.37 L261.20,251.35 L261.41,251.34 L261.61,251.33 L261.80,251.34 L261.99,251.35 L262.18,251.37 L262.38,251.40 L262.59,251.44 L262.81,251.49 L263.04,251.56 L263.30,251.65 L263.59,251.77 L263.89,251.94 L264.19,252.16 L264.45,252.45Z" fill="#000" fill-opacity="0.008" stroke="#444" stroke-width="0.5" stroke-linejoin="round"/><path d="M263.98,252.80 L263.88,253.07 L263.65,253.30 L263.38,253.45 L263.13,253.57 L262.90,253.65 L262.70,253.70 L262.52,253.74 L262.36,253.77 L262.21,253.80 L262.07,253.81 L261.93,253.82 L261.80,253.83 L261.66,253.83 L261.52,253.83 L261.38,253.82 L261.22,253.81 L261.05,253.78 L260.85,253.75 L260.63,253.70 L260.38,253.62 L260.10,253.50 L259.81,253.33 L259.56,253.09 L259.46,252.80 L259.56,252.51 L259.81,252.27 L260.10,252.10 L260.38,251.98 L260.63,251.90 L260.85,251.85 L261.05,251.82 L261.22,251.79 L261.38,251.78 L261.52,251.77 L261.66,251.77 L261.80,251.77 L261.93,251.78 L262.07,251.79 L262.21,251.80 L262.36,251.83 L262.52,251.86 L262.70,251.90 L262.90,251.95 L263.13,252.03 L263.38,252.15 L263.65,252.30 L263.88,252.53Z" fill="#000" fill-opacity="0.008" stroke="#404040" stroke-width="0.5" stroke-linejoin="round"/><ellipse cx="261.8" cy="252.8" rx="1.1" ry="0.8" fill="#fff" fill-opacity="0.7"/></g>
<g clip-path="url(#c3)"><path d="M241.00,254.00 L240.98,254.50 L240.96,255.01 L240.94,255.55 L240.91,256.14 L240.90,256.84 L240.91,257.71 L240.96,258.89 L241.03,260.63 L240.98,263.12 L240.26,265.41 L238.85,266.54 L237.20,267.27 L235.42,267.55 L233.72,266.99 L232.69,264.88 L232.35,262.41 L232.20,260.51 L232.14,259.06 L232.12,257.90 L232.10,256.94 L232.11,256.11 L232.12,255.36 L232.13,254.67 L232.15,254.00 L232.18,253.34 L232.21,252.66 L232.26,251.95 L232.32,251.18 L232.41,250.32 L232.53,249.33 L232.74,248.19 L233.16,247.01 L233.95,246.15 L235.01,245.81 L236.13,245.85 L237.20,246.11 L238.18,246.52 L239.07,247.03 L239.84,247.63 L240.44,248.38 L240.78,249.33 L240.95,250.25 L241.02,251.07 L241.04,251.78 L241.04,252.41 L241.03,252.97 L241.02,253.50Z" fill="#000" fill-opacity="0.09" stroke="#888" stroke-width="0.5" stroke-linejoin="round"/><path d="M240.34,254.00 L240.32,254.41 L240.31,254.83 L240.29,255.28 L240.27,255.77 L240.26,256.35 L240.27,257.07 L240.30,258.04 L240.35,259.46 L240.31,261.50 L239.72,263.40 L238.57,264.38 L237.20,265.02 L235.73,265.20 L234.34,264.66 L233.51,262.91 L233.23,260.88 L233.11,259.33 L233.06,258.14 L233.03,257.20 L233.02,256.41 L233.03,255.73 L233.03,255.12 L233.04,254.55 L233.06,254.00 L233.08,253.46 L233.11,252.90 L233.15,252.32 L233.19,251.69 L233.27,250.98 L233.37,250.17 L233.54,249.23 L233.88,248.25 L234.51,247.52 L235.37,247.17 L236.29,247.12 L237.20,247.29 L238.03,247.66 L238.77,248.15 L239.40,248.69 L239.89,249.35 L240.16,250.14 L240.29,250.91 L240.35,251.58 L240.37,252.17 L240.37,252.69 L240.37,253.15 L240.35,253.58Z" fill="#000" fill-opacity="0.09" stroke="#777" stroke-width="0.5" stroke-linejoin="round"/><path d="M239.68,254.00 L239.67,254.32 L239.65,254.66 L239.64,255.01 L239.63,255.40 L239.62,255.86 L239.62,256.42 L239.64,257.18 L239.68,258.29 L239.64,259.89 L239.18,261.39 L238.28,262.23 L237.20,262.76 L236.04,262.84 L234.97,262.34 L234.33,260.94 L234.10,259.36 L234.01,258.16 L233.97,257.23 L233.95,256.49 L233.94,255.88 L233.95,255.35 L233.95,254.87 L233.96,254.43 L233.97,254.00 L233.99,253.58 L234.01,253.14 L234.04,252.69 L234.07,252.19 L234.13,251.64 L234.21,251.01 L234.33,250.27 L234.60,249.49 L235.08,248.88 L235.74,248.54 L236.46,248.40 L237.20,248.47 L237.88,248.81 L238.47,249.27 L238.96,249.76 L239.33,250.31 L239.54,250.95 L239.64,251.56 L239.69,252.09 L239.70,252.56 L239.70,252.96 L239.70,253.33 L239.69,253.67Z" fill="#000" fill-opacity="0.09" stroke="#666" stroke-width="0.5" stroke-linejoin="round"/><path d="M239.02,254.00 L239.01,254.24 L239.00,254.48 L238.99,254.74 L238.98,255.03 L238.98,255.36 L238.98,255.78 L238.99,256.33 L239.01,257.13 L238.97,258.27 L238.64,259.38 L238.00,260.08 L237.20,260.51 L236.35,260.48 L235.59,260.01 L235.14,258.97 L234.98,257.84 L234.92,256.98 L234.89,256.31 L234.87,255.79 L234.86,255.35 L234.86,254.97 L234.87,254.63 L234.87,254.31 L234.88,254.00 L234.89,253.70 L234.90,253.39 L234.93,253.06 L234.95,252.70 L234.99,252.30 L235.04,251.84 L235.13,251.30 L235.31,250.73 L235.64,250.24 L236.10,249.90 L236.63,249.68 L237.20,249.64 L237.73,249.95 L238.17,250.39 L238.51,250.83 L238.77,251.28 L238.92,251.76 L238.99,252.21 L239.02,252.60 L239.03,252.94 L239.03,253.24 L239.03,253.51 L239.03,253.76Z" fill="#000" fill-opacity="0.09" stroke="#555" stroke-width="0.5" stroke-linejoin="round"/><path d="M238.36,254.00 L238.36,254.15 L238.35,254.31 L238.34,254.47 L238.34,254.66 L238.33,254.87 L238.33,255.13 L238.33,255.47 L238.33,255.96 L238.30,256.65 L238.10,257.37 L237.72,257.92 L237.20,258.25 L236.66,258.13 L236.21,257.69 L235.96,257.00 L235.86,256.32 L235.82,255.80 L235.80,255.40 L235.79,255.08 L235.79,254.82 L235.78,254.59 L235.78,254.38 L235.79,254.19 L235.79,254.00 L235.80,253.82 L235.80,253.63 L235.81,253.43 L235.83,253.21 L235.85,252.96 L235.88,252.68 L235.93,252.34 L236.03,251.97 L236.21,251.60 L236.47,251.27 L236.80,250.95 L237.20,250.82 L237.58,251.09 L237.87,251.52 L238.07,251.90 L238.22,252.24 L238.30,252.57 L238.34,252.86 L238.36,253.11 L238.36,253.33 L238.37,253.52 L238.37,253.69 L238.36,253.85Z" fill="#000" fill-opacity="0.09" stroke="#555" stroke-width="0.5" stroke-linejoin="round"/></g>
</svg>
</body></html>
